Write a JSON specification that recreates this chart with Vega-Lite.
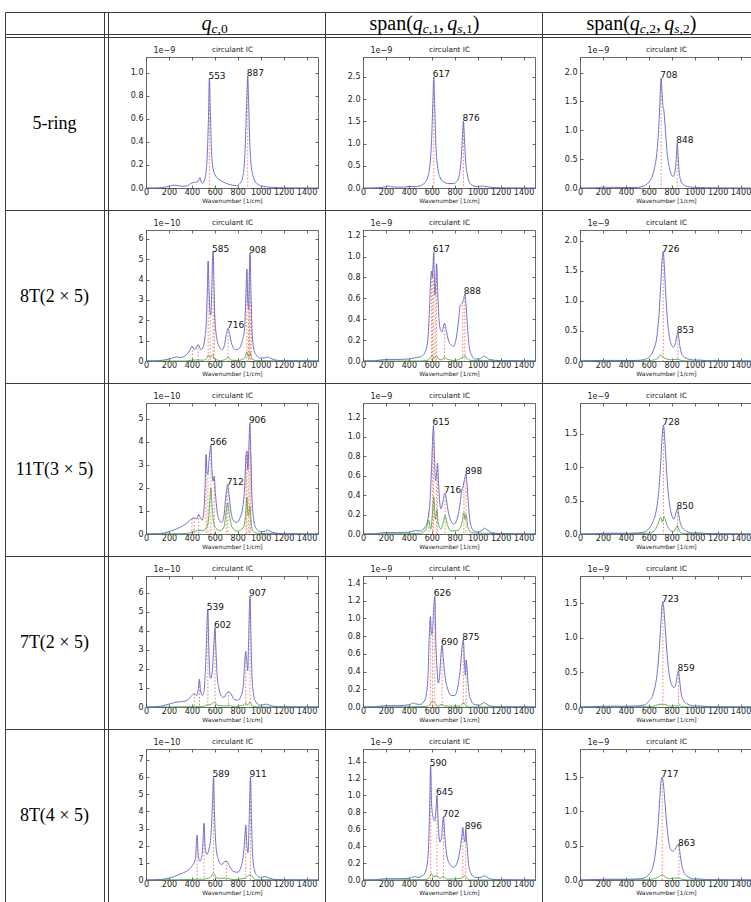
{
  "$schema": "https://vega.github.io/schema/vega-lite/v6.json",
  "background": "white",
  "padding": {"left": 4, "top": 11, "right": 0, "bottom": 0},
  "config": {
    "view": {"stroke": "#3c3c3c", "strokeWidth": 1},
    "axis": {
      "grid": false,
      "labelFont": "DejaVu Sans",
      "labelFontSize": 8,
      "labelColor": "#1a1a1a",
      "labelPadding": 6,
      "labelFlush": false,
      "labelOverlap": false,
      "domainColor": "#444444",
      "domainWidth": 0.8,
      "tickColor": "#444444",
      "tickWidth": 0.8,
      "tickSize": -3,
      "titleFont": "DejaVu Sans",
      "titleFontWeight": "normal",
      "titleColor": "#1a1a1a"
    },
    "axisBottom": {"labelPadding": 3},
    "text": {"font": "DejaVu Sans"}
  },
  "datasets": {
    "curves": [
      {"p":"A","s":"b","x":0,"y":0},{"p":"A","s":"b","x":100,"y":0.002},{"p":"A","s":"b","x":150,"y":0.005},{"p":"A","s":"b","x":200,"y":0.015},{"p":"A","s":"b","x":240,"y":0.025},{"p":"A","s":"b","x":280,"y":0.02},{"p":"A","s":"b","x":320,"y":0.015},{"p":"A","s":"b","x":360,"y":0.02},{"p":"A","s":"b","x":400,"y":0.045},{"p":"A","s":"b","x":430,"y":0.05},{"p":"A","s":"b","x":455,"y":0.06},{"p":"A","s":"b","x":470,"y":0.09},{"p":"A","s":"b","x":480,"y":0.06},{"p":"A","s":"b","x":495,"y":0.04},{"p":"A","s":"b","x":510,"y":0.07},{"p":"A","s":"b","x":525,"y":0.15},{"p":"A","s":"b","x":535,"y":0.3},{"p":"A","s":"b","x":545,"y":0.62},{"p":"A","s":"b","x":553,"y":0.95},{"p":"A","s":"b","x":560,"y":0.7},{"p":"A","s":"b","x":570,"y":0.35},{"p":"A","s":"b","x":580,"y":0.2},{"p":"A","s":"b","x":600,"y":0.12},{"p":"A","s":"b","x":630,"y":0.08},{"p":"A","s":"b","x":660,"y":0.06},{"p":"A","s":"b","x":700,"y":0.04},{"p":"A","s":"b","x":750,"y":0.025},{"p":"A","s":"b","x":790,"y":0.02},{"p":"A","s":"b","x":820,"y":0.04},{"p":"A","s":"b","x":845,"y":0.1},{"p":"A","s":"b","x":860,"y":0.25},{"p":"A","s":"b","x":872,"y":0.55},{"p":"A","s":"b","x":880,"y":0.8},{"p":"A","s":"b","x":887,"y":0.97},{"p":"A","s":"b","x":895,"y":0.75},{"p":"A","s":"b","x":905,"y":0.4},{"p":"A","s":"b","x":915,"y":0.22},{"p":"A","s":"b","x":930,"y":0.12},{"p":"A","s":"b","x":950,"y":0.06},{"p":"A","s":"b","x":980,"y":0.03},{"p":"A","s":"b","x":1020,"y":0.015},{"p":"A","s":"b","x":1100,"y":0.006},{"p":"A","s":"b","x":1200,"y":0.002},{"p":"A","s":"b","x":1300,"y":0.001},{"p":"A","s":"b","x":1500,"y":0},

      {"p":"B","s":"b","x":0,"y":0},{"p":"B","s":"b","x":150,"y":0.01},{"p":"B","s":"b","x":200,"y":0.03},{"p":"B","s":"b","x":225,"y":0.045},{"p":"B","s":"b","x":250,"y":0.03},{"p":"B","s":"b","x":300,"y":0.02},{"p":"B","s":"b","x":350,"y":0.02},{"p":"B","s":"b","x":400,"y":0.035},{"p":"B","s":"b","x":450,"y":0.03},{"p":"B","s":"b","x":500,"y":0.05},{"p":"B","s":"b","x":540,"y":0.12},{"p":"B","s":"b","x":570,"y":0.3},{"p":"B","s":"b","x":590,"y":0.7},{"p":"B","s":"b","x":600,"y":1.2},{"p":"B","s":"b","x":610,"y":2.0},{"p":"B","s":"b","x":617,"y":2.5},{"p":"B","s":"b","x":625,"y":1.9},{"p":"B","s":"b","x":635,"y":1.0},{"p":"B","s":"b","x":650,"y":0.5},{"p":"B","s":"b","x":670,"y":0.25},{"p":"B","s":"b","x":700,"y":0.14},{"p":"B","s":"b","x":750,"y":0.1},{"p":"B","s":"b","x":790,"y":0.1},{"p":"B","s":"b","x":820,"y":0.15},{"p":"B","s":"b","x":840,"y":0.3},{"p":"B","s":"b","x":855,"y":0.6},{"p":"B","s":"b","x":866,"y":1.1},{"p":"B","s":"b","x":876,"y":1.5},{"p":"B","s":"b","x":885,"y":1.1},{"p":"B","s":"b","x":895,"y":0.6},{"p":"B","s":"b","x":910,"y":0.3},{"p":"B","s":"b","x":930,"y":0.12},{"p":"B","s":"b","x":960,"y":0.05},{"p":"B","s":"b","x":1000,"y":0.03},{"p":"B","s":"b","x":1040,"y":0.045},{"p":"B","s":"b","x":1060,"y":0.04},{"p":"B","s":"b","x":1100,"y":0.02},{"p":"B","s":"b","x":1200,"y":0.005},{"p":"B","s":"b","x":1500,"y":0},

      {"p":"C","s":"b","x":0,"y":0},{"p":"C","s":"b","x":150,"y":0.005},{"p":"C","s":"b","x":200,"y":0.015},{"p":"C","s":"b","x":250,"y":0.01},{"p":"C","s":"b","x":300,"y":0.01},{"p":"C","s":"b","x":400,"y":0.008},{"p":"C","s":"b","x":500,"y":0.01},{"p":"C","s":"b","x":550,"y":0.03},{"p":"C","s":"b","x":600,"y":0.1},{"p":"C","s":"b","x":630,"y":0.2},{"p":"C","s":"b","x":650,"y":0.35},{"p":"C","s":"b","x":670,"y":0.6},{"p":"C","s":"b","x":685,"y":1.0},{"p":"C","s":"b","x":695,"y":1.4},{"p":"C","s":"b","x":702,"y":1.75},{"p":"C","s":"b","x":708,"y":1.9},{"p":"C","s":"b","x":714,"y":1.7},{"p":"C","s":"b","x":722,"y":1.45},{"p":"C","s":"b","x":732,"y":1.33},{"p":"C","s":"b","x":745,"y":1.0},{"p":"C","s":"b","x":760,"y":0.6},{"p":"C","s":"b","x":780,"y":0.35},{"p":"C","s":"b","x":800,"y":0.22},{"p":"C","s":"b","x":812,"y":0.2},{"p":"C","s":"b","x":825,"y":0.25},{"p":"C","s":"b","x":835,"y":0.4},{"p":"C","s":"b","x":842,"y":0.6},{"p":"C","s":"b","x":848,"y":0.78},{"p":"C","s":"b","x":853,"y":0.65},{"p":"C","s":"b","x":862,"y":0.35},{"p":"C","s":"b","x":875,"y":0.15},{"p":"C","s":"b","x":900,"y":0.06},{"p":"C","s":"b","x":950,"y":0.02},{"p":"C","s":"b","x":1000,"y":0.01},{"p":"C","s":"b","x":1050,"y":0.01},{"p":"C","s":"b","x":1100,"y":0.005},{"p":"C","s":"b","x":1200,"y":0.002},{"p":"C","s":"b","x":1500,"y":0},

      {"p":"D","s":"b","x":0,"y":0},{"p":"D","s":"b","x":100,"y":0.01},{"p":"D","s":"b","x":200,"y":0.1},{"p":"D","s":"b","x":270,"y":0.2},{"p":"D","s":"b","x":300,"y":0.17},{"p":"D","s":"b","x":350,"y":0.3},{"p":"D","s":"b","x":380,"y":0.5},{"p":"D","s":"b","x":400,"y":0.72},{"p":"D","s":"b","x":425,"y":0.55},{"p":"D","s":"b","x":455,"y":0.8},{"p":"D","s":"b","x":480,"y":0.55},{"p":"D","s":"b","x":500,"y":0.7},{"p":"D","s":"b","x":515,"y":1.2},{"p":"D","s":"b","x":525,"y":1.8},{"p":"D","s":"b","x":535,"y":3.5},{"p":"D","s":"b","x":542,"y":4.9},{"p":"D","s":"b","x":550,"y":3.5},{"p":"D","s":"b","x":558,"y":2.4},{"p":"D","s":"b","x":565,"y":2.25},{"p":"D","s":"b","x":572,"y":3.2},{"p":"D","s":"b","x":578,"y":4.5},{"p":"D","s":"b","x":585,"y":5.35},{"p":"D","s":"b","x":592,"y":4.0},{"p":"D","s":"b","x":600,"y":2.2},{"p":"D","s":"b","x":615,"y":1.2},{"p":"D","s":"b","x":640,"y":0.7},{"p":"D","s":"b","x":665,"y":0.55},{"p":"D","s":"b","x":685,"y":0.8},{"p":"D","s":"b","x":700,"y":1.3},{"p":"D","s":"b","x":716,"y":1.6},{"p":"D","s":"b","x":730,"y":1.3},{"p":"D","s":"b","x":750,"y":0.8},{"p":"D","s":"b","x":780,"y":0.55},{"p":"D","s":"b","x":810,"y":0.6},{"p":"D","s":"b","x":840,"y":1.0},{"p":"D","s":"b","x":860,"y":1.6},{"p":"D","s":"b","x":870,"y":3.0},{"p":"D","s":"b","x":880,"y":4.5},{"p":"D","s":"b","x":887,"y":3.0},{"p":"D","s":"b","x":894,"y":2.55},{"p":"D","s":"b","x":902,"y":4.5},{"p":"D","s":"b","x":908,"y":5.3},{"p":"D","s":"b","x":915,"y":3.5},{"p":"D","s":"b","x":925,"y":1.5},{"p":"D","s":"b","x":940,"y":0.6},{"p":"D","s":"b","x":960,"y":0.3},{"p":"D","s":"b","x":1000,"y":0.15},{"p":"D","s":"b","x":1040,"y":0.15},{"p":"D","s":"b","x":1065,"y":0.2},{"p":"D","s":"b","x":1090,"y":0.12},{"p":"D","s":"b","x":1150,"y":0.03},{"p":"D","s":"b","x":1200,"y":0.01},{"p":"D","s":"b","x":1500,"y":0},
      {"p":"D","s":"g","x":0,"y":0},{"p":"D","s":"g","x":350,"y":0},{"p":"D","s":"g","x":400,"y":0.04},{"p":"D","s":"g","x":450,"y":0.05},{"p":"D","s":"g","x":500,"y":0.04},{"p":"D","s":"g","x":530,"y":0.15},{"p":"D","s":"g","x":545,"y":0.3},{"p":"D","s":"g","x":560,"y":0.15},{"p":"D","s":"g","x":580,"y":0.3},{"p":"D","s":"g","x":600,"y":0.1},{"p":"D","s":"g","x":650,"y":0.02},{"p":"D","s":"g","x":700,"y":0.1},{"p":"D","s":"g","x":716,"y":0.2},{"p":"D","s":"g","x":735,"y":0.05},{"p":"D","s":"g","x":800,"y":0.02},{"p":"D","s":"g","x":860,"y":0.15},{"p":"D","s":"g","x":880,"y":0.45},{"p":"D","s":"g","x":893,"y":0.2},{"p":"D","s":"g","x":908,"y":0.42},{"p":"D","s":"g","x":925,"y":0.1},{"p":"D","s":"g","x":960,"y":0.02},{"p":"D","s":"g","x":1500,"y":0},

      {"p":"E","s":"b","x":0,"y":0},{"p":"E","s":"b","x":100,"y":0.002},{"p":"E","s":"b","x":200,"y":0.015},{"p":"E","s":"b","x":300,"y":0.015},{"p":"E","s":"b","x":400,"y":0.02},{"p":"E","s":"b","x":450,"y":0.03},{"p":"E","s":"b","x":500,"y":0.04},{"p":"E","s":"b","x":540,"y":0.08},{"p":"E","s":"b","x":565,"y":0.2},{"p":"E","s":"b","x":580,"y":0.5},{"p":"E","s":"b","x":590,"y":0.78},{"p":"E","s":"b","x":598,"y":0.86},{"p":"E","s":"b","x":604,"y":0.8},{"p":"E","s":"b","x":610,"y":0.9},{"p":"E","s":"b","x":617,"y":1.04},{"p":"E","s":"b","x":622,"y":0.8},{"p":"E","s":"b","x":628,"y":0.63},{"p":"E","s":"b","x":635,"y":0.75},{"p":"E","s":"b","x":642,"y":0.93},{"p":"E","s":"b","x":650,"y":0.7},{"p":"E","s":"b","x":660,"y":0.45},{"p":"E","s":"b","x":675,"y":0.3},{"p":"E","s":"b","x":690,"y":0.28},{"p":"E","s":"b","x":705,"y":0.35},{"p":"E","s":"b","x":712,"y":0.36},{"p":"E","s":"b","x":725,"y":0.3},{"p":"E","s":"b","x":745,"y":0.2},{"p":"E","s":"b","x":770,"y":0.15},{"p":"E","s":"b","x":790,"y":0.14},{"p":"E","s":"b","x":810,"y":0.2},{"p":"E","s":"b","x":830,"y":0.35},{"p":"E","s":"b","x":848,"y":0.53},{"p":"E","s":"b","x":862,"y":0.55},{"p":"E","s":"b","x":875,"y":0.58},{"p":"E","s":"b","x":888,"y":0.64},{"p":"E","s":"b","x":898,"y":0.55},{"p":"E","s":"b","x":910,"y":0.35},{"p":"E","s":"b","x":925,"y":0.15},{"p":"E","s":"b","x":945,"y":0.06},{"p":"E","s":"b","x":980,"y":0.02},{"p":"E","s":"b","x":1020,"y":0.02},{"p":"E","s":"b","x":1050,"y":0.045},{"p":"E","s":"b","x":1070,"y":0.04},{"p":"E","s":"b","x":1100,"y":0.015},{"p":"E","s":"b","x":1200,"y":0.003},{"p":"E","s":"b","x":1500,"y":0},
      {"p":"E","s":"g","x":0,"y":0},{"p":"E","s":"g","x":500,"y":0},{"p":"E","s":"g","x":570,"y":0.01},{"p":"E","s":"g","x":600,"y":0.05},{"p":"E","s":"g","x":620,"y":0.03},{"p":"E","s":"g","x":640,"y":0.05},{"p":"E","s":"g","x":660,"y":0.02},{"p":"E","s":"g","x":690,"y":0.01},{"p":"E","s":"g","x":710,"y":0.04},{"p":"E","s":"g","x":730,"y":0.02},{"p":"E","s":"g","x":800,"y":0.005},{"p":"E","s":"g","x":860,"y":0.03},{"p":"E","s":"g","x":875,"y":0.04},{"p":"E","s":"g","x":890,"y":0.05},{"p":"E","s":"g","x":910,"y":0.02},{"p":"E","s":"g","x":950,"y":0.005},{"p":"E","s":"g","x":1500,"y":0},

      {"p":"F","s":"b","x":0,"y":0},{"p":"F","s":"b","x":200,"y":0.01},{"p":"F","s":"b","x":300,"y":0.01},{"p":"F","s":"b","x":400,"y":0.008},{"p":"F","s":"b","x":500,"y":0.01},{"p":"F","s":"b","x":550,"y":0.02},{"p":"F","s":"b","x":600,"y":0.06},{"p":"F","s":"b","x":640,"y":0.18},{"p":"F","s":"b","x":670,"y":0.4},{"p":"F","s":"b","x":690,"y":0.8},{"p":"F","s":"b","x":705,"y":1.3},{"p":"F","s":"b","x":715,"y":1.65},{"p":"F","s":"b","x":726,"y":1.82},{"p":"F","s":"b","x":735,"y":1.6},{"p":"F","s":"b","x":745,"y":1.2},{"p":"F","s":"b","x":760,"y":0.75},{"p":"F","s":"b","x":780,"y":0.4},{"p":"F","s":"b","x":800,"y":0.26},{"p":"F","s":"b","x":815,"y":0.23},{"p":"F","s":"b","x":830,"y":0.28},{"p":"F","s":"b","x":842,"y":0.4},{"p":"F","s":"b","x":853,"y":0.47},{"p":"F","s":"b","x":862,"y":0.38},{"p":"F","s":"b","x":875,"y":0.2},{"p":"F","s":"b","x":900,"y":0.08},{"p":"F","s":"b","x":950,"y":0.03},{"p":"F","s":"b","x":1000,"y":0.015},{"p":"F","s":"b","x":1050,"y":0.015},{"p":"F","s":"b","x":1100,"y":0.005},{"p":"F","s":"b","x":1500,"y":0},
      {"p":"F","s":"g","x":0,"y":0},{"p":"F","s":"g","x":600,"y":0.005},{"p":"F","s":"g","x":650,"y":0.02},{"p":"F","s":"g","x":680,"y":0.05},{"p":"F","s":"g","x":700,"y":0.1},{"p":"F","s":"g","x":715,"y":0.08},{"p":"F","s":"g","x":730,"y":0.06},{"p":"F","s":"g","x":760,"y":0.03},{"p":"F","s":"g","x":800,"y":0.02},{"p":"F","s":"g","x":850,"y":0.03},{"p":"F","s":"g","x":880,"y":0.01},{"p":"F","s":"g","x":950,"y":0},{"p":"F","s":"g","x":1500,"y":0},

      {"p":"G","s":"b","x":0,"y":0},{"p":"G","s":"b","x":100,"y":0.01},{"p":"G","s":"b","x":200,"y":0.1},{"p":"G","s":"b","x":300,"y":0.3},{"p":"G","s":"b","x":350,"y":0.45},{"p":"G","s":"b","x":400,"y":0.66},{"p":"G","s":"b","x":420,"y":0.7},{"p":"G","s":"b","x":440,"y":0.65},{"p":"G","s":"b","x":460,"y":0.85},{"p":"G","s":"b","x":475,"y":0.7},{"p":"G","s":"b","x":490,"y":0.6},{"p":"G","s":"b","x":505,"y":1.0},{"p":"G","s":"b","x":515,"y":2.0},{"p":"G","s":"b","x":524,"y":3.45},{"p":"G","s":"b","x":532,"y":2.7},{"p":"G","s":"b","x":540,"y":2.6},{"p":"G","s":"b","x":550,"y":3.2},{"p":"G","s":"b","x":566,"y":3.85},{"p":"G","s":"b","x":575,"y":2.8},{"p":"G","s":"b","x":585,"y":2.3},{"p":"G","s":"b","x":595,"y":2.5},{"p":"G","s":"b","x":605,"y":1.8},{"p":"G","s":"b","x":620,"y":1.0},{"p":"G","s":"b","x":640,"y":0.6},{"p":"G","s":"b","x":660,"y":0.5},{"p":"G","s":"b","x":680,"y":0.8},{"p":"G","s":"b","x":695,"y":1.6},{"p":"G","s":"b","x":700,"y":1.8},{"p":"G","s":"b","x":712,"y":2.15},{"p":"G","s":"b","x":722,"y":1.8},{"p":"G","s":"b","x":740,"y":1.0},{"p":"G","s":"b","x":760,"y":0.6},{"p":"G","s":"b","x":790,"y":0.5},{"p":"G","s":"b","x":820,"y":0.7},{"p":"G","s":"b","x":845,"y":1.2},{"p":"G","s":"b","x":860,"y":2.0},{"p":"G","s":"b","x":872,"y":3.4},{"p":"G","s":"b","x":880,"y":3.6},{"p":"G","s":"b","x":888,"y":2.8},{"p":"G","s":"b","x":895,"y":3.5},{"p":"G","s":"b","x":906,"y":4.8},{"p":"G","s":"b","x":914,"y":3.5},{"p":"G","s":"b","x":925,"y":1.5},{"p":"G","s":"b","x":940,"y":0.6},{"p":"G","s":"b","x":960,"y":0.25},{"p":"G","s":"b","x":1000,"y":0.1},{"p":"G","s":"b","x":1040,"y":0.12},{"p":"G","s":"b","x":1060,"y":0.18},{"p":"G","s":"b","x":1080,"y":0.12},{"p":"G","s":"b","x":1120,"y":0.05},{"p":"G","s":"b","x":1200,"y":0.01},{"p":"G","s":"b","x":1500,"y":0},
      {"p":"G","s":"g","x":0,"y":0},{"p":"G","s":"g","x":350,"y":0.02},{"p":"G","s":"g","x":420,"y":0.12},{"p":"G","s":"g","x":460,"y":0.15},{"p":"G","s":"g","x":500,"y":0.15},{"p":"G","s":"g","x":530,"y":0.3},{"p":"G","s":"g","x":545,"y":0.6},{"p":"G","s":"g","x":560,"y":1.7},{"p":"G","s":"g","x":566,"y":2.0},{"p":"G","s":"g","x":575,"y":1.3},{"p":"G","s":"g","x":590,"y":0.5},{"p":"G","s":"g","x":610,"y":0.25},{"p":"G","s":"g","x":650,"y":0.15},{"p":"G","s":"g","x":680,"y":0.3},{"p":"G","s":"g","x":700,"y":1.0},{"p":"G","s":"g","x":712,"y":1.35},{"p":"G","s":"g","x":725,"y":0.9},{"p":"G","s":"g","x":750,"y":0.3},{"p":"G","s":"g","x":800,"y":0.12},{"p":"G","s":"g","x":850,"y":0.3},{"p":"G","s":"g","x":870,"y":0.9},{"p":"G","s":"g","x":880,"y":1.6},{"p":"G","s":"g","x":890,"y":0.8},{"p":"G","s":"g","x":898,"y":0.9},{"p":"G","s":"g","x":906,"y":1.2},{"p":"G","s":"g","x":915,"y":0.6},{"p":"G","s":"g","x":930,"y":0.15},{"p":"G","s":"g","x":970,"y":0.03},{"p":"G","s":"g","x":1500,"y":0},

      {"p":"H","s":"b","x":0,"y":0},{"p":"H","s":"b","x":100,"y":0.003},{"p":"H","s":"b","x":200,"y":0.015},{"p":"H","s":"b","x":300,"y":0.015},{"p":"H","s":"b","x":400,"y":0.02},{"p":"H","s":"b","x":460,"y":0.035},{"p":"H","s":"b","x":500,"y":0.03},{"p":"H","s":"b","x":540,"y":0.07},{"p":"H","s":"b","x":565,"y":0.15},{"p":"H","s":"b","x":585,"y":0.35},{"p":"H","s":"b","x":600,"y":0.75},{"p":"H","s":"b","x":610,"y":1.05},{"p":"H","s":"b","x":615,"y":1.12},{"p":"H","s":"b","x":622,"y":0.85},{"p":"H","s":"b","x":632,"y":0.55},{"p":"H","s":"b","x":642,"y":0.62},{"p":"H","s":"b","x":650,"y":0.73},{"p":"H","s":"b","x":658,"y":0.55},{"p":"H","s":"b","x":670,"y":0.32},{"p":"H","s":"b","x":680,"y":0.26},{"p":"H","s":"b","x":695,"y":0.32},{"p":"H","s":"b","x":708,"y":0.4},{"p":"H","s":"b","x":716,"y":0.42},{"p":"H","s":"b","x":728,"y":0.35},{"p":"H","s":"b","x":745,"y":0.22},{"p":"H","s":"b","x":770,"y":0.13},{"p":"H","s":"b","x":790,"y":0.1},{"p":"H","s":"b","x":820,"y":0.15},{"p":"H","s":"b","x":845,"y":0.3},{"p":"H","s":"b","x":862,"y":0.45},{"p":"H","s":"b","x":875,"y":0.5},{"p":"H","s":"b","x":888,"y":0.58},{"p":"H","s":"b","x":898,"y":0.62},{"p":"H","s":"b","x":908,"y":0.5},{"p":"H","s":"b","x":920,"y":0.3},{"p":"H","s":"b","x":935,"y":0.12},{"p":"H","s":"b","x":960,"y":0.04},{"p":"H","s":"b","x":1000,"y":0.02},{"p":"H","s":"b","x":1040,"y":0.04},{"p":"H","s":"b","x":1060,"y":0.06},{"p":"H","s":"b","x":1080,"y":0.045},{"p":"H","s":"b","x":1120,"y":0.015},{"p":"H","s":"b","x":1200,"y":0.003},{"p":"H","s":"b","x":1500,"y":0},
      {"p":"H","s":"g","x":0,"y":0},{"p":"H","s":"g","x":500,"y":0.005},{"p":"H","s":"g","x":550,"y":0.05},{"p":"H","s":"g","x":575,"y":0.14},{"p":"H","s":"g","x":590,"y":0.05},{"p":"H","s":"g","x":605,"y":0.2},{"p":"H","s":"g","x":618,"y":0.38},{"p":"H","s":"g","x":630,"y":0.15},{"p":"H","s":"g","x":645,"y":0.25},{"p":"H","s":"g","x":655,"y":0.12},{"p":"H","s":"g","x":680,"y":0.05},{"p":"H","s":"g","x":700,"y":0.12},{"p":"H","s":"g","x":716,"y":0.19},{"p":"H","s":"g","x":735,"y":0.1},{"p":"H","s":"g","x":770,"y":0.03},{"p":"H","s":"g","x":830,"y":0.04},{"p":"H","s":"g","x":860,"y":0.1},{"p":"H","s":"g","x":880,"y":0.22},{"p":"H","s":"g","x":890,"y":0.15},{"p":"H","s":"g","x":900,"y":0.2},{"p":"H","s":"g","x":915,"y":0.07},{"p":"H","s":"g","x":950,"y":0.01},{"p":"H","s":"g","x":1500,"y":0},

      {"p":"I","s":"b","x":0,"y":0},{"p":"I","s":"b","x":150,"y":0.005},{"p":"I","s":"b","x":200,"y":0.01},{"p":"I","s":"b","x":300,"y":0.012},{"p":"I","s":"b","x":400,"y":0.01},{"p":"I","s":"b","x":500,"y":0.015},{"p":"I","s":"b","x":560,"y":0.03},{"p":"I","s":"b","x":600,"y":0.08},{"p":"I","s":"b","x":640,"y":0.2},{"p":"I","s":"b","x":670,"y":0.4},{"p":"I","s":"b","x":690,"y":0.7},{"p":"I","s":"b","x":705,"y":1.1},{"p":"I","s":"b","x":718,"y":1.5},{"p":"I","s":"b","x":728,"y":1.63},{"p":"I","s":"b","x":738,"y":1.45},{"p":"I","s":"b","x":750,"y":1.1},{"p":"I","s":"b","x":765,"y":0.7},{"p":"I","s":"b","x":785,"y":0.4},{"p":"I","s":"b","x":805,"y":0.26},{"p":"I","s":"b","x":818,"y":0.22},{"p":"I","s":"b","x":832,"y":0.28},{"p":"I","s":"b","x":842,"y":0.35},{"p":"I","s":"b","x":850,"y":0.38},{"p":"I","s":"b","x":858,"y":0.33},{"p":"I","s":"b","x":870,"y":0.2},{"p":"I","s":"b","x":890,"y":0.1},{"p":"I","s":"b","x":930,"y":0.04},{"p":"I","s":"b","x":980,"y":0.015},{"p":"I","s":"b","x":1050,"y":0.015},{"p":"I","s":"b","x":1100,"y":0.005},{"p":"I","s":"b","x":1500,"y":0},
      {"p":"I","s":"g","x":0,"y":0},{"p":"I","s":"g","x":600,"y":0.01},{"p":"I","s":"g","x":650,"y":0.05},{"p":"I","s":"g","x":680,"y":0.15},{"p":"I","s":"g","x":705,"y":0.25},{"p":"I","s":"g","x":718,"y":0.18},{"p":"I","s":"g","x":735,"y":0.26},{"p":"I","s":"g","x":755,"y":0.15},{"p":"I","s":"g","x":790,"y":0.05},{"p":"I","s":"g","x":820,"y":0.04},{"p":"I","s":"g","x":840,"y":0.1},{"p":"I","s":"g","x":850,"y":0.13},{"p":"I","s":"g","x":862,"y":0.06},{"p":"I","s":"g","x":890,"y":0.01},{"p":"I","s":"g","x":1500,"y":0},

      {"p":"J","s":"b","x":0,"y":0},{"p":"J","s":"b","x":100,"y":0.02},{"p":"J","s":"b","x":200,"y":0.15},{"p":"J","s":"b","x":260,"y":0.25},{"p":"J","s":"b","x":300,"y":0.28},{"p":"J","s":"b","x":330,"y":0.3},{"p":"J","s":"b","x":360,"y":0.35},{"p":"J","s":"b","x":400,"y":0.6},{"p":"J","s":"b","x":420,"y":0.7},{"p":"J","s":"b","x":440,"y":0.6},{"p":"J","s":"b","x":455,"y":0.9},{"p":"J","s":"b","x":466,"y":1.45},{"p":"J","s":"b","x":475,"y":0.9},{"p":"J","s":"b","x":490,"y":0.6},{"p":"J","s":"b","x":505,"y":0.8},{"p":"J","s":"b","x":515,"y":1.6},{"p":"J","s":"b","x":525,"y":3.0},{"p":"J","s":"b","x":533,"y":4.6},{"p":"J","s":"b","x":539,"y":5.1},{"p":"J","s":"b","x":548,"y":3.0},{"p":"J","s":"b","x":558,"y":1.6},{"p":"J","s":"b","x":565,"y":1.5},{"p":"J","s":"b","x":580,"y":2.0},{"p":"J","s":"b","x":592,"y":3.3},{"p":"J","s":"b","x":602,"y":4.15},{"p":"J","s":"b","x":610,"y":3.0},{"p":"J","s":"b","x":620,"y":1.7},{"p":"J","s":"b","x":635,"y":1.0},{"p":"J","s":"b","x":655,"y":0.6},{"p":"J","s":"b","x":680,"y":0.5},{"p":"J","s":"b","x":700,"y":0.7},{"p":"J","s":"b","x":720,"y":0.8},{"p":"J","s":"b","x":740,"y":0.7},{"p":"J","s":"b","x":770,"y":0.4},{"p":"J","s":"b","x":800,"y":0.35},{"p":"J","s":"b","x":830,"y":0.6},{"p":"J","s":"b","x":850,"y":1.2},{"p":"J","s":"b","x":860,"y":2.3},{"p":"J","s":"b","x":870,"y":2.9},{"p":"J","s":"b","x":878,"y":2.5},{"p":"J","s":"b","x":887,"y":1.9},{"p":"J","s":"b","x":895,"y":3.5},{"p":"J","s":"b","x":902,"y":5.2},{"p":"J","s":"b","x":907,"y":5.8},{"p":"J","s":"b","x":914,"y":4.0},{"p":"J","s":"b","x":922,"y":2.0},{"p":"J","s":"b","x":935,"y":0.8},{"p":"J","s":"b","x":955,"y":0.3},{"p":"J","s":"b","x":990,"y":0.1},{"p":"J","s":"b","x":1030,"y":0.12},{"p":"J","s":"b","x":1050,"y":0.15},{"p":"J","s":"b","x":1075,"y":0.1},{"p":"J","s":"b","x":1120,"y":0.03},{"p":"J","s":"b","x":1200,"y":0.01},{"p":"J","s":"b","x":1500,"y":0},
      {"p":"J","s":"g","x":0,"y":0},{"p":"J","s":"g","x":500,"y":0.02},{"p":"J","s":"g","x":530,"y":0.1},{"p":"J","s":"g","x":560,"y":0.12},{"p":"J","s":"g","x":600,"y":0.25},{"p":"J","s":"g","x":620,"y":0.1},{"p":"J","s":"g","x":700,"y":0.05},{"p":"J","s":"g","x":720,"y":0.1},{"p":"J","s":"g","x":760,"y":0.02},{"p":"J","s":"g","x":850,"y":0.1},{"p":"J","s":"g","x":870,"y":0.2},{"p":"J","s":"g","x":885,"y":0.1},{"p":"J","s":"g","x":907,"y":0.25},{"p":"J","s":"g","x":930,"y":0.05},{"p":"J","s":"g","x":1000,"y":0},{"p":"J","s":"g","x":1500,"y":0},

      {"p":"K","s":"b","x":0,"y":0},{"p":"K","s":"b","x":100,"y":0.003},{"p":"K","s":"b","x":200,"y":0.015},{"p":"K","s":"b","x":300,"y":0.015},{"p":"K","s":"b","x":400,"y":0.025},{"p":"K","s":"b","x":440,"y":0.045},{"p":"K","s":"b","x":460,"y":0.035},{"p":"K","s":"b","x":500,"y":0.03},{"p":"K","s":"b","x":540,"y":0.08},{"p":"K","s":"b","x":565,"y":0.3},{"p":"K","s":"b","x":578,"y":0.8},{"p":"K","s":"b","x":588,"y":1.02},{"p":"K","s":"b","x":598,"y":0.82},{"p":"K","s":"b","x":606,"y":0.85},{"p":"K","s":"b","x":616,"y":1.1},{"p":"K","s":"b","x":626,"y":1.25},{"p":"K","s":"b","x":634,"y":0.8},{"p":"K","s":"b","x":645,"y":0.45},{"p":"K","s":"b","x":657,"y":0.27},{"p":"K","s":"b","x":668,"y":0.35},{"p":"K","s":"b","x":680,"y":0.6},{"p":"K","s":"b","x":690,"y":0.7},{"p":"K","s":"b","x":700,"y":0.55},{"p":"K","s":"b","x":715,"y":0.35},{"p":"K","s":"b","x":740,"y":0.2},{"p":"K","s":"b","x":770,"y":0.13},{"p":"K","s":"b","x":800,"y":0.13},{"p":"K","s":"b","x":830,"y":0.25},{"p":"K","s":"b","x":850,"y":0.45},{"p":"K","s":"b","x":862,"y":0.65},{"p":"K","s":"b","x":875,"y":0.76},{"p":"K","s":"b","x":885,"y":0.5},{"p":"K","s":"b","x":893,"y":0.36},{"p":"K","s":"b","x":900,"y":0.53},{"p":"K","s":"b","x":907,"y":0.45},{"p":"K","s":"b","x":920,"y":0.2},{"p":"K","s":"b","x":940,"y":0.08},{"p":"K","s":"b","x":970,"y":0.03},{"p":"K","s":"b","x":1020,"y":0.02},{"p":"K","s":"b","x":1050,"y":0.05},{"p":"K","s":"b","x":1070,"y":0.04},{"p":"K","s":"b","x":1110,"y":0.01},{"p":"K","s":"b","x":1200,"y":0.003},{"p":"K","s":"b","x":1500,"y":0},
      {"p":"K","s":"g","x":0,"y":0},{"p":"K","s":"g","x":550,"y":0.005},{"p":"K","s":"g","x":590,"y":0.04},{"p":"K","s":"g","x":610,"y":0.07},{"p":"K","s":"g","x":625,"y":0.05},{"p":"K","s":"g","x":650,"y":0.01},{"p":"K","s":"g","x":690,"y":0.03},{"p":"K","s":"g","x":710,"y":0.01},{"p":"K","s":"g","x":850,"y":0.01},{"p":"K","s":"g","x":875,"y":0.05},{"p":"K","s":"g","x":895,"y":0.02},{"p":"K","s":"g","x":930,"y":0},{"p":"K","s":"g","x":1500,"y":0},

      {"p":"L","s":"b","x":0,"y":0},{"p":"L","s":"b","x":200,"y":0.01},{"p":"L","s":"b","x":300,"y":0.012},{"p":"L","s":"b","x":400,"y":0.01},{"p":"L","s":"b","x":500,"y":0.015},{"p":"L","s":"b","x":560,"y":0.03},{"p":"L","s":"b","x":600,"y":0.08},{"p":"L","s":"b","x":640,"y":0.2},{"p":"L","s":"b","x":670,"y":0.45},{"p":"L","s":"b","x":690,"y":0.8},{"p":"L","s":"b","x":705,"y":1.2},{"p":"L","s":"b","x":715,"y":1.45},{"p":"L","s":"b","x":723,"y":1.52},{"p":"L","s":"b","x":732,"y":1.4},{"p":"L","s":"b","x":745,"y":1.1},{"p":"L","s":"b","x":760,"y":0.75},{"p":"L","s":"b","x":780,"y":0.45},{"p":"L","s":"b","x":800,"y":0.32},{"p":"L","s":"b","x":820,"y":0.28},{"p":"L","s":"b","x":838,"y":0.35},{"p":"L","s":"b","x":850,"y":0.48},{"p":"L","s":"b","x":859,"y":0.52},{"p":"L","s":"b","x":868,"y":0.4},{"p":"L","s":"b","x":880,"y":0.22},{"p":"L","s":"b","x":900,"y":0.1},{"p":"L","s":"b","x":940,"y":0.04},{"p":"L","s":"b","x":1000,"y":0.015},{"p":"L","s":"b","x":1050,"y":0.015},{"p":"L","s":"b","x":1100,"y":0.005},{"p":"L","s":"b","x":1500,"y":0},
      {"p":"L","s":"g","x":0,"y":0},{"p":"L","s":"g","x":600,"y":0.005},{"p":"L","s":"g","x":660,"y":0.02},{"p":"L","s":"g","x":700,"y":0.04},{"p":"L","s":"g","x":720,"y":0.03},{"p":"L","s":"g","x":740,"y":0.04},{"p":"L","s":"g","x":780,"y":0.01},{"p":"L","s":"g","x":850,"y":0.02},{"p":"L","s":"g","x":865,"y":0.03},{"p":"L","s":"g","x":890,"y":0.005},{"p":"L","s":"g","x":950,"y":0},{"p":"L","s":"g","x":1500,"y":0},

      {"p":"M","s":"b","x":0,"y":0},{"p":"M","s":"b","x":100,"y":0.02},{"p":"M","s":"b","x":200,"y":0.1},{"p":"M","s":"b","x":300,"y":0.35},{"p":"M","s":"b","x":350,"y":0.5},{"p":"M","s":"b","x":400,"y":0.8},{"p":"M","s":"b","x":430,"y":1.2},{"p":"M","s":"b","x":446,"y":2.6},{"p":"M","s":"b","x":455,"y":1.5},{"p":"M","s":"b","x":470,"y":1.1},{"p":"M","s":"b","x":490,"y":1.5},{"p":"M","s":"b","x":507,"y":3.3},{"p":"M","s":"b","x":515,"y":2.0},{"p":"M","s":"b","x":530,"y":1.5},{"p":"M","s":"b","x":550,"y":1.8},{"p":"M","s":"b","x":570,"y":3.0},{"p":"M","s":"b","x":580,"y":4.5},{"p":"M","s":"b","x":589,"y":6.0},{"p":"M","s":"b","x":597,"y":4.0},{"p":"M","s":"b","x":610,"y":2.0},{"p":"M","s":"b","x":630,"y":1.2},{"p":"M","s":"b","x":660,"y":0.9},{"p":"M","s":"b","x":690,"y":1.1},{"p":"M","s":"b","x":710,"y":1.05},{"p":"M","s":"b","x":730,"y":0.8},{"p":"M","s":"b","x":760,"y":0.5},{"p":"M","s":"b","x":800,"y":0.45},{"p":"M","s":"b","x":830,"y":0.8},{"p":"M","s":"b","x":850,"y":1.5},{"p":"M","s":"b","x":862,"y":2.5},{"p":"M","s":"b","x":870,"y":3.2},{"p":"M","s":"b","x":880,"y":2.0},{"p":"M","s":"b","x":890,"y":1.6},{"p":"M","s":"b","x":900,"y":3.5},{"p":"M","s":"b","x":911,"y":6.0},{"p":"M","s":"b","x":920,"y":3.5},{"p":"M","s":"b","x":930,"y":1.5},{"p":"M","s":"b","x":945,"y":0.6},{"p":"M","s":"b","x":970,"y":0.25},{"p":"M","s":"b","x":1000,"y":0.15},{"p":"M","s":"b","x":1040,"y":0.2},{"p":"M","s":"b","x":1070,"y":0.12},{"p":"M","s":"b","x":1120,"y":0.03},{"p":"M","s":"b","x":1200,"y":0.01},{"p":"M","s":"b","x":1500,"y":0},
      {"p":"M","s":"g","x":0,"y":0},{"p":"M","s":"g","x":500,"y":0.05},{"p":"M","s":"g","x":560,"y":0.15},{"p":"M","s":"g","x":589,"y":0.4},{"p":"M","s":"g","x":620,"y":0.1},{"p":"M","s":"g","x":700,"y":0.1},{"p":"M","s":"g","x":760,"y":0.02},{"p":"M","s":"g","x":860,"y":0.1},{"p":"M","s":"g","x":880,"y":0.2},{"p":"M","s":"g","x":911,"y":0.3},{"p":"M","s":"g","x":950,"y":0.02},{"p":"M","s":"g","x":1500,"y":0},

      {"p":"N","s":"b","x":0,"y":0},{"p":"N","s":"b","x":100,"y":0.003},{"p":"N","s":"b","x":200,"y":0.015},{"p":"N","s":"b","x":300,"y":0.015},{"p":"N","s":"b","x":400,"y":0.02},{"p":"N","s":"b","x":450,"y":0.04},{"p":"N","s":"b","x":480,"y":0.03},{"p":"N","s":"b","x":520,"y":0.05},{"p":"N","s":"b","x":550,"y":0.12},{"p":"N","s":"b","x":570,"y":0.35},{"p":"N","s":"b","x":582,"y":0.9},{"p":"N","s":"b","x":590,"y":1.35},{"p":"N","s":"b","x":598,"y":0.9},{"p":"N","s":"b","x":610,"y":0.75},{"p":"N","s":"b","x":625,"y":0.7},{"p":"N","s":"b","x":637,"y":0.85},{"p":"N","s":"b","x":645,"y":1.0},{"p":"N","s":"b","x":655,"y":0.7},{"p":"N","s":"b","x":670,"y":0.45},{"p":"N","s":"b","x":685,"y":0.5},{"p":"N","s":"b","x":695,"y":0.7},{"p":"N","s":"b","x":702,"y":0.75},{"p":"N","s":"b","x":712,"y":0.55},{"p":"N","s":"b","x":730,"y":0.3},{"p":"N","s":"b","x":760,"y":0.18},{"p":"N","s":"b","x":790,"y":0.15},{"p":"N","s":"b","x":820,"y":0.2},{"p":"N","s":"b","x":845,"y":0.35},{"p":"N","s":"b","x":860,"y":0.5},{"p":"N","s":"b","x":870,"y":0.62},{"p":"N","s":"b","x":880,"y":0.5},{"p":"N","s":"b","x":888,"y":0.45},{"p":"N","s":"b","x":896,"y":0.6},{"p":"N","s":"b","x":905,"y":0.45},{"p":"N","s":"b","x":920,"y":0.2},{"p":"N","s":"b","x":940,"y":0.08},{"p":"N","s":"b","x":980,"y":0.03},{"p":"N","s":"b","x":1030,"y":0.03},{"p":"N","s":"b","x":1055,"y":0.05},{"p":"N","s":"b","x":1080,"y":0.035},{"p":"N","s":"b","x":1120,"y":0.01},{"p":"N","s":"b","x":1200,"y":0.003},{"p":"N","s":"b","x":1500,"y":0},
      {"p":"N","s":"g","x":0,"y":0},{"p":"N","s":"g","x":550,"y":0.005},{"p":"N","s":"g","x":580,"y":0.04},{"p":"N","s":"g","x":595,"y":0.08},{"p":"N","s":"g","x":610,"y":0.04},{"p":"N","s":"g","x":645,"y":0.05},{"p":"N","s":"g","x":670,"y":0.02},{"p":"N","s":"g","x":700,"y":0.04},{"p":"N","s":"g","x":730,"y":0.01},{"p":"N","s":"g","x":860,"y":0.02},{"p":"N","s":"g","x":880,"y":0.05},{"p":"N","s":"g","x":900,"y":0.03},{"p":"N","s":"g","x":930,"y":0},{"p":"N","s":"g","x":1500,"y":0},

      {"p":"O","s":"b","x":0,"y":0},{"p":"O","s":"b","x":200,"y":0.01},{"p":"O","s":"b","x":300,"y":0.012},{"p":"O","s":"b","x":400,"y":0.01},{"p":"O","s":"b","x":500,"y":0.015},{"p":"O","s":"b","x":560,"y":0.03},{"p":"O","s":"b","x":600,"y":0.08},{"p":"O","s":"b","x":640,"y":0.22},{"p":"O","s":"b","x":665,"y":0.5},{"p":"O","s":"b","x":685,"y":0.9},{"p":"O","s":"b","x":700,"y":1.3},{"p":"O","s":"b","x":710,"y":1.48},{"p":"O","s":"b","x":717,"y":1.5},{"p":"O","s":"b","x":726,"y":1.42},{"p":"O","s":"b","x":738,"y":1.2},{"p":"O","s":"b","x":752,"y":0.9},{"p":"O","s":"b","x":770,"y":0.6},{"p":"O","s":"b","x":790,"y":0.45},{"p":"O","s":"b","x":810,"y":0.42},{"p":"O","s":"b","x":830,"y":0.45},{"p":"O","s":"b","x":845,"y":0.5},{"p":"O","s":"b","x":855,"y":0.52},{"p":"O","s":"b","x":863,"y":0.5},{"p":"O","s":"b","x":875,"y":0.35},{"p":"O","s":"b","x":890,"y":0.2},{"p":"O","s":"b","x":910,"y":0.1},{"p":"O","s":"b","x":950,"y":0.04},{"p":"O","s":"b","x":1000,"y":0.015},{"p":"O","s":"b","x":1050,"y":0.015},{"p":"O","s":"b","x":1100,"y":0.005},{"p":"O","s":"b","x":1500,"y":0},
      {"p":"O","s":"g","x":0,"y":0},{"p":"O","s":"g","x":600,"y":0.005},{"p":"O","s":"g","x":650,"y":0.02},{"p":"O","s":"g","x":690,"y":0.05},{"p":"O","s":"g","x":717,"y":0.08},{"p":"O","s":"g","x":740,"y":0.05},{"p":"O","s":"g","x":780,"y":0.02},{"p":"O","s":"g","x":860,"y":0.03},{"p":"O","s":"g","x":890,"y":0.01},{"p":"O","s":"g","x":950,"y":0},{"p":"O","s":"g","x":1500,"y":0}
    ],
    "sticks": [
      {"p":"A","x":553,"h":0.95,"lab":1},{"p":"A","x":887,"h":0.97,"lab":1},
      {"p":"B","x":617,"h":2.5,"lab":1},{"p":"B","x":876,"h":1.5,"lab":1},
      {"p":"C","x":708,"h":1.9,"lab":1},{"p":"C","x":848,"h":0.78,"lab":1},
      {"p":"D","x":405,"h":0.7,"lab":0},{"p":"D","x":455,"h":0.8,"lab":0},{"p":"D","x":542,"h":4.9,"lab":0},{"p":"D","x":560,"h":2.35,"lab":0},{"p":"D","x":585,"h":5.35,"lab":1},{"p":"D","x":596,"h":3.1,"lab":0},{"p":"D","x":716,"h":1.6,"lab":1},{"p":"D","x":880,"h":4.5,"lab":0},{"p":"D","x":894,"h":2.55,"lab":0},{"p":"D","x":902,"h":4.5,"lab":0},{"p":"D","x":908,"h":5.3,"lab":1},{"p":"D","x":918,"h":2.9,"lab":0},
      {"p":"E","x":598,"h":0.86,"lab":0},{"p":"E","x":605,"h":0.8,"lab":0},{"p":"E","x":617,"h":1.04,"lab":1},{"p":"E","x":630,"h":0.65,"lab":0},{"p":"E","x":642,"h":0.93,"lab":0},{"p":"E","x":712,"h":0.36,"lab":0},{"p":"E","x":870,"h":0.57,"lab":0},{"p":"E","x":888,"h":0.64,"lab":1},
      {"p":"F","x":726,"h":1.82,"lab":1},{"p":"F","x":853,"h":0.47,"lab":1},
      {"p":"G","x":400,"h":0.66,"lab":0},{"p":"G","x":420,"h":0.7,"lab":0},{"p":"G","x":460,"h":0.85,"lab":0},{"p":"G","x":524,"h":3.45,"lab":0},{"p":"G","x":540,"h":2.6,"lab":0},{"p":"G","x":566,"h":3.85,"lab":1},{"p":"G","x":595,"h":2.5,"lab":0},{"p":"G","x":700,"h":1.8,"lab":0},{"p":"G","x":712,"h":2.15,"lab":1},{"p":"G","x":872,"h":3.4,"lab":0},{"p":"G","x":880,"h":3.6,"lab":0},{"p":"G","x":895,"h":3.5,"lab":0},{"p":"G","x":906,"h":4.8,"lab":1},{"p":"G","x":914,"h":3.5,"lab":0},
      {"p":"H","x":575,"h":0.22,"lab":0},{"p":"H","x":605,"h":0.88,"lab":0},{"p":"H","x":615,"h":1.12,"lab":1},{"p":"H","x":640,"h":0.6,"lab":0},{"p":"H","x":650,"h":0.73,"lab":0},{"p":"H","x":716,"h":0.42,"lab":1},{"p":"H","x":880,"h":0.53,"lab":0},{"p":"H","x":898,"h":0.62,"lab":1},
      {"p":"I","x":728,"h":1.63,"lab":1},{"p":"I","x":850,"h":0.38,"lab":1},
      {"p":"J","x":420,"h":0.7,"lab":0},{"p":"J","x":466,"h":1.45,"lab":0},{"p":"J","x":539,"h":5.1,"lab":1},{"p":"J","x":602,"h":4.15,"lab":1},{"p":"J","x":720,"h":0.8,"lab":0},{"p":"J","x":870,"h":2.9,"lab":0},{"p":"J","x":907,"h":5.8,"lab":1},
      {"p":"K","x":588,"h":1.02,"lab":0},{"p":"K","x":606,"h":0.85,"lab":0},{"p":"K","x":626,"h":1.25,"lab":1},{"p":"K","x":690,"h":0.7,"lab":1},{"p":"K","x":875,"h":0.76,"lab":1},{"p":"K","x":900,"h":0.53,"lab":0},
      {"p":"L","x":723,"h":1.52,"lab":1},{"p":"L","x":859,"h":0.52,"lab":1},
      {"p":"M","x":446,"h":2.6,"lab":0},{"p":"M","x":507,"h":3.3,"lab":0},{"p":"M","x":589,"h":6.0,"lab":1},{"p":"M","x":700,"h":1.1,"lab":0},{"p":"M","x":870,"h":3.2,"lab":0},{"p":"M","x":911,"h":6.0,"lab":1},
      {"p":"N","x":590,"h":1.35,"lab":1},{"p":"N","x":645,"h":1.0,"lab":1},{"p":"N","x":702,"h":0.75,"lab":1},{"p":"N","x":870,"h":0.62,"lab":0},{"p":"N","x":896,"h":0.6,"lab":1},
      {"p":"O","x":717,"h":1.5,"lab":1},{"p":"O","x":863,"h":0.5,"lab":1}
    ]
  },
  "columns": 4,
  "spacing": 0,
  "bounds": "flush",
  "concat": [
    {
      "width": 103, "height": 25,
      "data": {"values": [{"t": ""}]},
      "mark": {"type": "text"},
      "encoding": {
        "text": {"field": "t"},
        "x": {"datum": 0.5, "type": "quantitative", "scale": {"domain": [0, 1]}, "axis": {"orient": "bottom", "offset": -3, "ticks": false, "labels": false, "title": null, "domainColor": "#3c3c3c", "domainWidth": 1}},
        "y": {"datum": 0.5, "type": "quantitative", "scale": {"domain": [0, 1]}, "axis": {"orient": "right", "offset": -4, "ticks": false, "labels": false, "title": null, "domainColor": "#3c3c3c", "domainWidth": 1}}
      }
    },
    {
      "width": 217, "height": 25,
      "data": {"values": [{"k": 1}]},
      "encoding": {
        "x": {"datum": 0.5, "type": "quantitative", "scale": {"domain": [0, 1]}, "axis": {"orient": "bottom", "offset": -3, "ticks": false, "labels": false, "title": null, "domainColor": "#3c3c3c", "domainWidth": 1}},
        "y": {"datum": 0.5, "type": "quantitative", "scale": {"domain": [0, 1]}, "axis": null}
      },
      "layer": [
        {"mark": {"type": "text", "text": "q", "font": "Liberation Serif", "fontStyle": "italic", "fontSize": 20, "align": "left", "baseline": "alphabetic", "dx": -15, "dy": 5}},
        {"mark": {"type": "text", "text": "c", "font": "Liberation Serif", "fontStyle": "italic", "fontSize": 13.5, "align": "left", "baseline": "alphabetic", "dx": -5, "dy": 8.5}},
        {"mark": {"type": "text", "text": ",0", "font": "Liberation Serif", "fontSize": 13.5, "align": "left", "baseline": "alphabetic", "dx": 1, "dy": 8.5}}
      ]
    },
    {
      "width": 217, "height": 25,
      "data": {"values": [{"k": 2}]},
      "encoding": {
        "x": {"datum": 0.5, "type": "quantitative", "scale": {"domain": [0, 1]}, "axis": {"orient": "bottom", "offset": -3, "ticks": false, "labels": false, "title": null, "domainColor": "#3c3c3c", "domainWidth": 1}},
        "y": {"datum": 0.5, "type": "quantitative", "scale": {"domain": [0, 1]}, "axis": null}
      },
      "layer": [
        {"mark": {"type": "text", "text": "span(", "font": "Liberation Serif", "fontSize": 20, "align": "left", "baseline": "alphabetic", "dx": -64, "dy": 5}},
        {"mark": {"type": "text", "text": "q", "font": "Liberation Serif", "fontStyle": "italic", "fontSize": 20, "align": "left", "baseline": "alphabetic", "dx": -20.7, "dy": 5}},
        {"mark": {"type": "text", "text": "c", "font": "Liberation Serif", "fontStyle": "italic", "fontSize": 13.5, "align": "left", "baseline": "alphabetic", "dx": -10.7, "dy": 8.5}},
        {"mark": {"type": "text", "text": ",1", "font": "Liberation Serif", "fontSize": 13.5, "align": "left", "baseline": "alphabetic", "dx": -4.7, "dy": 8.5}},
        {"mark": {"type": "text", "text": ",", "font": "Liberation Serif", "fontSize": 20, "align": "left", "baseline": "alphabetic", "dx": 5.4, "dy": 5}},
        {"mark": {"type": "text", "text": "q", "font": "Liberation Serif", "fontStyle": "italic", "fontSize": 20, "align": "left", "baseline": "alphabetic", "dx": 13.8, "dy": 5}},
        {"mark": {"type": "text", "text": "s", "font": "Liberation Serif", "fontStyle": "italic", "fontSize": 13.5, "align": "left", "baseline": "alphabetic", "dx": 23.8, "dy": 8.5}},
        {"mark": {"type": "text", "text": ",1", "font": "Liberation Serif", "fontSize": 13.5, "align": "left", "baseline": "alphabetic", "dx": 29.1, "dy": 8.5}},
        {"mark": {"type": "text", "text": ")", "font": "Liberation Serif", "fontSize": 20, "align": "left", "baseline": "alphabetic", "dx": 39.2, "dy": 5}}
      ]
    },
    {
      "width": 209, "height": 25,
      "data": {"values": [{"k": 3}]},
      "encoding": {
        "x": {"datum": 0.5, "type": "quantitative", "scale": {"domain": [0, 1]}, "axis": {"orient": "bottom", "offset": -3, "ticks": false, "labels": false, "title": null, "domainColor": "#3c3c3c", "domainWidth": 1}},
        "y": {"datum": 0.5, "type": "quantitative", "scale": {"domain": [0, 1]}, "axis": null}
      },
      "layer": [
        {"mark": {"type": "text", "text": "span(", "font": "Liberation Serif", "fontSize": 20, "align": "left", "baseline": "alphabetic", "dx": -60, "dy": 5}},
        {"mark": {"type": "text", "text": "q", "font": "Liberation Serif", "fontStyle": "italic", "fontSize": 20, "align": "left", "baseline": "alphabetic", "dx": -16.7, "dy": 5}},
        {"mark": {"type": "text", "text": "c", "font": "Liberation Serif", "fontStyle": "italic", "fontSize": 13.5, "align": "left", "baseline": "alphabetic", "dx": -6.7, "dy": 8.5}},
        {"mark": {"type": "text", "text": ",2", "font": "Liberation Serif", "fontSize": 13.5, "align": "left", "baseline": "alphabetic", "dx": -0.7, "dy": 8.5}},
        {"mark": {"type": "text", "text": ",", "font": "Liberation Serif", "fontSize": 20, "align": "left", "baseline": "alphabetic", "dx": 9.4, "dy": 5}},
        {"mark": {"type": "text", "text": "q", "font": "Liberation Serif", "fontStyle": "italic", "fontSize": 20, "align": "left", "baseline": "alphabetic", "dx": 17.8, "dy": 5}},
        {"mark": {"type": "text", "text": "s", "font": "Liberation Serif", "fontStyle": "italic", "fontSize": 13.5, "align": "left", "baseline": "alphabetic", "dx": 27.8, "dy": 8.5}},
        {"mark": {"type": "text", "text": ",2", "font": "Liberation Serif", "fontSize": 13.5, "align": "left", "baseline": "alphabetic", "dx": 33.1, "dy": 8.5}},
        {"mark": {"type": "text", "text": ")", "font": "Liberation Serif", "fontSize": 20, "align": "left", "baseline": "alphabetic", "dx": 43.2, "dy": 5}}
      ]
    },

    {"width": 103, "height": 173, "data": {"values": [{"name": "5-ring"}]}, "mark": {"type": "text", "font": "Liberation Serif", "fontSize": 18, "color": "#000"}, "encoding": {"text": {"field": "name"}, "x": {"datum": 0.48, "type": "quantitative", "scale": {"domain": [0, 1]}, "axis": null}, "y": {"datum": 0.5, "type": "quantitative", "scale": {"domain": [0, 1]}, "axis": {"orient": "right", "offset": -4, "ticks": false, "labels": false, "title": null, "domainColor": "#3c3c3c", "domainWidth": 1}}}},
    {
      "width": 217, "height": 173,
      "layer": [
        {"data": {"name": "sticks"}, "transform": [{"filter": "datum.p === 'A'"}], "mark": {"type": "rule", "color": "#e8603c", "strokeWidth": 0.8, "strokeDash": [1.5, 2]}, "encoding": {"x": {"field": "x", "type": "quantitative", "axis": {"orient": "top", "offset": -20, "values": [0,200,400,600,800,1000,1200,1400], "labels": false, "title": "circulant IC", "titleFontSize": 7.3, "titleY": -6, "titleBaseline": "alphabetic"}}, "y": {"field": "h", "type": "quantitative", "axis": {"orient": "right", "offset": -7, "values": [0,0.2,0.4,0.6,0.8,1.0], "labels": false, "title": null}}, "y2": {"datum": 0}}},
        {"data": {"name": "curves"}, "transform": [{"filter": "datum.p === 'A' && datum.s === 'b'"}], "mark": {"type": "line", "color": "#6262cc", "strokeWidth": 0.9, "interpolate": "monotone"}, "encoding": {"x": {"field": "x", "type": "quantitative", "scale": {"domain": [0, 1500], "range": [38, 210], "nice": false, "zero": false}, "axis": {"orient": "bottom", "offset": -22, "values": [0,200,400,600,800,1000,1200,1400], "format": "d", "title": "Wavenumber [1/cm]", "titleFontSize": 5.9, "titleY": 14, "titleBaseline": "alphabetic"}}, "y": {"field": "y", "type": "quantitative", "scale": {"domain": [0, 1.137], "range": [151, 20], "nice": false, "zero": false}, "axis": {"orient": "left", "offset": -38, "values": [0,0.2,0.4,0.6,0.8,1.0], "format": ".1f", "title": "1e\u22129", "titleAngle": 0, "titleX": 7, "titleY": 15.5, "titleAlign": "left", "titleBaseline": "alphabetic", "titleFontSize": 8}}}},
        {"data": {"name": "sticks"}, "transform": [{"filter": "datum.p === 'A' && datum.lab === 1"}], "mark": {"type": "text", "align": "left", "baseline": "alphabetic", "dx": -1, "fontSize": 9, "color": "#111"}, "encoding": {"x": {"field": "x", "type": "quantitative", "axis": null}, "y": {"field": "h", "type": "quantitative", "axis": null}, "text": {"field": "x", "type": "quantitative", "format": "d"}}}
      ],
      "resolve": {"axis": {"x": "independent", "y": "independent"}}
    },
    {
      "width": 217, "height": 173,
      "layer": [
        {"data": {"name": "sticks"}, "transform": [{"filter": "datum.p === 'B'"}], "mark": {"type": "rule", "color": "#e8603c", "strokeWidth": 0.8, "strokeDash": [1.5, 2]}, "encoding": {"x": {"field": "x", "type": "quantitative", "axis": {"orient": "top", "offset": -20, "values": [0,200,400,600,800,1000,1200,1400], "labels": false, "title": "circulant IC", "titleFontSize": 7.3, "titleY": -6, "titleBaseline": "alphabetic"}}, "y": {"field": "h", "type": "quantitative", "axis": {"orient": "right", "offset": -7, "values": [0,0.5,1.0,1.5,2.0,2.5], "labels": false, "title": null}}, "y2": {"datum": 0}}},
        {"data": {"name": "curves"}, "transform": [{"filter": "datum.p === 'B' && datum.s === 'b'"}], "mark": {"type": "line", "color": "#6262cc", "strokeWidth": 0.9, "interpolate": "monotone"}, "encoding": {"x": {"field": "x", "type": "quantitative", "scale": {"domain": [0, 1500], "range": [38, 210], "nice": false, "zero": false}, "axis": {"orient": "bottom", "offset": -22, "values": [0,200,400,600,800,1000,1200,1400], "format": "d", "title": "Wavenumber [1/cm]", "titleFontSize": 5.9, "titleY": 14, "titleBaseline": "alphabetic"}}, "y": {"field": "y", "type": "quantitative", "scale": {"domain": [0, 2.95], "range": [151, 20], "nice": false, "zero": false}, "axis": {"orient": "left", "offset": -38, "values": [0,0.5,1.0,1.5,2.0,2.5], "format": ".1f", "title": "1e\u22129", "titleAngle": 0, "titleX": 7, "titleY": 15.5, "titleAlign": "left", "titleBaseline": "alphabetic", "titleFontSize": 8}}}},
        {"data": {"name": "sticks"}, "transform": [{"filter": "datum.p === 'B' && datum.lab === 1"}], "mark": {"type": "text", "align": "left", "baseline": "alphabetic", "dx": -1, "fontSize": 9, "color": "#111"}, "encoding": {"x": {"field": "x", "type": "quantitative", "axis": null}, "y": {"field": "h", "type": "quantitative", "axis": null}, "text": {"field": "x", "type": "quantitative", "format": "d"}}}
      ],
      "resolve": {"axis": {"x": "independent", "y": "independent"}}
    },
    {
      "width": 209, "height": 173,
      "layer": [
        {"data": {"name": "sticks"}, "transform": [{"filter": "datum.p === 'C'"}], "mark": {"type": "rule", "color": "#e8603c", "strokeWidth": 0.8, "strokeDash": [1.5, 2]}, "encoding": {"x": {"field": "x", "type": "quantitative", "axis": {"orient": "top", "offset": -20, "values": [0,200,400,600,800,1000,1200,1400], "labels": false, "title": "circulant IC", "titleFontSize": 7.3, "titleY": -6, "titleBaseline": "alphabetic"}}, "y": {"field": "h", "type": "quantitative", "axis": null}, "y2": {"datum": 0}}},
        {"data": {"name": "curves"}, "transform": [{"filter": "datum.p === 'C' && datum.s === 'b'"}], "mark": {"type": "line", "color": "#6262cc", "strokeWidth": 0.9, "interpolate": "monotone"}, "encoding": {"x": {"field": "x", "type": "quantitative", "scale": {"domain": [0, 1500], "range": [38, 210], "nice": false, "zero": false}, "axis": {"orient": "bottom", "offset": -22, "values": [0,200,400,600,800,1000,1200,1400], "format": "d", "title": "Wavenumber [1/cm]", "titleFontSize": 5.9, "titleY": 14, "titleBaseline": "alphabetic"}}, "y": {"field": "y", "type": "quantitative", "scale": {"domain": [0, 2.27], "range": [151, 20], "nice": false, "zero": false}, "axis": {"orient": "left", "offset": -38, "values": [0,0.5,1.0,1.5,2.0], "format": ".1f", "title": "1e\u22129", "titleAngle": 0, "titleX": 7, "titleY": 15.5, "titleAlign": "left", "titleBaseline": "alphabetic", "titleFontSize": 8}}}},
        {"data": {"name": "sticks"}, "transform": [{"filter": "datum.p === 'C' && datum.lab === 1"}], "mark": {"type": "text", "align": "left", "baseline": "alphabetic", "dx": -1, "fontSize": 9, "color": "#111"}, "encoding": {"x": {"field": "x", "type": "quantitative", "axis": null}, "y": {"field": "h", "type": "quantitative", "axis": null}, "text": {"field": "x", "type": "quantitative", "format": "d"}}}
      ],
      "resolve": {"axis": {"x": "independent", "y": "independent"}}
    },

    {"width": 103, "height": 173, "data": {"values": [{"name": "8T(2 \u00d7 5)"}]}, "mark": {"type": "text", "font": "Liberation Serif", "fontSize": 18, "color": "#000"}, "encoding": {"text": {"field": "name"}, "x": {"datum": 0.48, "type": "quantitative", "scale": {"domain": [0, 1]}, "axis": null}, "y": {"datum": 0.5, "type": "quantitative", "scale": {"domain": [0, 1]}, "axis": {"orient": "right", "offset": -4, "ticks": false, "labels": false, "title": null, "domainColor": "#3c3c3c", "domainWidth": 1}}}},
    {
      "width": 217, "height": 173,
      "layer": [
        {"data": {"name": "curves"}, "transform": [{"filter": "datum.p === 'D' && datum.s === 'g'"}], "mark": {"type": "line", "color": "#3aa03a", "strokeWidth": 0.8, "interpolate": "monotone"}, "encoding": {"x": {"field": "x", "type": "quantitative", "axis": null}, "y": {"field": "y", "type": "quantitative", "axis": null}}},
        {"data": {"name": "sticks"}, "transform": [{"filter": "datum.p === 'D'"}], "mark": {"type": "rule", "color": "#e8603c", "strokeWidth": 0.8, "strokeDash": [1.5, 2]}, "encoding": {"x": {"field": "x", "type": "quantitative", "axis": {"orient": "top", "offset": -20, "values": [0,200,400,600,800,1000,1200,1400], "labels": false, "title": "circulant IC", "titleFontSize": 7.3, "titleY": -6, "titleBaseline": "alphabetic"}}, "y": {"field": "h", "type": "quantitative", "axis": {"orient": "right", "offset": -7, "values": [0,1,2,3,4,5,6], "labels": false, "title": null}}, "y2": {"datum": 0}}},
        {"data": {"name": "curves"}, "transform": [{"filter": "datum.p === 'D' && datum.s === 'b'"}], "mark": {"type": "line", "color": "#6262cc", "strokeWidth": 0.9, "interpolate": "monotone"}, "encoding": {"x": {"field": "x", "type": "quantitative", "scale": {"domain": [0, 1500], "range": [38, 210], "nice": false, "zero": false}, "axis": {"orient": "bottom", "offset": -22, "values": [0,200,400,600,800,1000,1200,1400], "format": "d", "title": "Wavenumber [1/cm]", "titleFontSize": 5.9, "titleY": 14, "titleBaseline": "alphabetic"}}, "y": {"field": "y", "type": "quantitative", "scale": {"domain": [0, 6.43], "range": [151, 20], "nice": false, "zero": false}, "axis": {"orient": "left", "offset": -38, "values": [0,1,2,3,4,5,6], "format": "d", "title": "1e\u221210", "titleAngle": 0, "titleX": 7, "titleY": 15.5, "titleAlign": "left", "titleBaseline": "alphabetic", "titleFontSize": 8}}}},
        {"data": {"name": "sticks"}, "transform": [{"filter": "datum.p === 'D' && datum.lab === 1"}], "mark": {"type": "text", "align": "left", "baseline": "alphabetic", "dx": -1, "fontSize": 9, "color": "#111"}, "encoding": {"x": {"field": "x", "type": "quantitative", "axis": null}, "y": {"field": "h", "type": "quantitative", "axis": null}, "text": {"field": "x", "type": "quantitative", "format": "d"}}}
      ],
      "resolve": {"axis": {"x": "independent", "y": "independent"}}
    },
    {
      "width": 217, "height": 173,
      "layer": [
        {"data": {"name": "curves"}, "transform": [{"filter": "datum.p === 'E' && datum.s === 'g'"}], "mark": {"type": "line", "color": "#3aa03a", "strokeWidth": 0.8, "interpolate": "monotone"}, "encoding": {"x": {"field": "x", "type": "quantitative", "axis": null}, "y": {"field": "y", "type": "quantitative", "axis": null}}},
        {"data": {"name": "sticks"}, "transform": [{"filter": "datum.p === 'E'"}], "mark": {"type": "rule", "color": "#e8603c", "strokeWidth": 0.8, "strokeDash": [1.5, 2]}, "encoding": {"x": {"field": "x", "type": "quantitative", "axis": {"orient": "top", "offset": -20, "values": [0,200,400,600,800,1000,1200,1400], "labels": false, "title": "circulant IC", "titleFontSize": 7.3, "titleY": -6, "titleBaseline": "alphabetic"}}, "y": {"field": "h", "type": "quantitative", "axis": {"orient": "right", "offset": -7, "values": [0,0.2,0.4,0.6,0.8,1.0,1.2], "labels": false, "title": null}}, "y2": {"datum": 0}}},
        {"data": {"name": "curves"}, "transform": [{"filter": "datum.p === 'E' && datum.s === 'b'"}], "mark": {"type": "line", "color": "#6262cc", "strokeWidth": 0.9, "interpolate": "monotone"}, "encoding": {"x": {"field": "x", "type": "quantitative", "scale": {"domain": [0, 1500], "range": [38, 210], "nice": false, "zero": false}, "axis": {"orient": "bottom", "offset": -22, "values": [0,200,400,600,800,1000,1200,1400], "format": "d", "title": "Wavenumber [1/cm]", "titleFontSize": 5.9, "titleY": 14, "titleBaseline": "alphabetic"}}, "y": {"field": "y", "type": "quantitative", "scale": {"domain": [0, 1.254], "range": [151, 20], "nice": false, "zero": false}, "axis": {"orient": "left", "offset": -38, "values": [0,0.2,0.4,0.6,0.8,1.0,1.2], "format": ".1f", "title": "1e\u22129", "titleAngle": 0, "titleX": 7, "titleY": 15.5, "titleAlign": "left", "titleBaseline": "alphabetic", "titleFontSize": 8}}}},
        {"data": {"name": "sticks"}, "transform": [{"filter": "datum.p === 'E' && datum.lab === 1"}], "mark": {"type": "text", "align": "left", "baseline": "alphabetic", "dx": -1, "fontSize": 9, "color": "#111"}, "encoding": {"x": {"field": "x", "type": "quantitative", "axis": null}, "y": {"field": "h", "type": "quantitative", "axis": null}, "text": {"field": "x", "type": "quantitative", "format": "d"}}}
      ],
      "resolve": {"axis": {"x": "independent", "y": "independent"}}
    },
    {
      "width": 209, "height": 173,
      "layer": [
        {"data": {"name": "curves"}, "transform": [{"filter": "datum.p === 'F' && datum.s === 'g'"}], "mark": {"type": "line", "color": "#3aa03a", "strokeWidth": 0.8, "interpolate": "monotone"}, "encoding": {"x": {"field": "x", "type": "quantitative", "axis": null}, "y": {"field": "y", "type": "quantitative", "axis": null}}},
        {"data": {"name": "sticks"}, "transform": [{"filter": "datum.p === 'F'"}], "mark": {"type": "rule", "color": "#e8603c", "strokeWidth": 0.8, "strokeDash": [1.5, 2]}, "encoding": {"x": {"field": "x", "type": "quantitative", "axis": {"orient": "top", "offset": -20, "values": [0,200,400,600,800,1000,1200,1400], "labels": false, "title": "circulant IC", "titleFontSize": 7.3, "titleY": -6, "titleBaseline": "alphabetic"}}, "y": {"field": "h", "type": "quantitative", "axis": null}, "y2": {"datum": 0}}},
        {"data": {"name": "curves"}, "transform": [{"filter": "datum.p === 'F' && datum.s === 'b'"}], "mark": {"type": "line", "color": "#6262cc", "strokeWidth": 0.9, "interpolate": "monotone"}, "encoding": {"x": {"field": "x", "type": "quantitative", "scale": {"domain": [0, 1500], "range": [38, 210], "nice": false, "zero": false}, "axis": {"orient": "bottom", "offset": -22, "values": [0,200,400,600,800,1000,1200,1400], "format": "d", "title": "Wavenumber [1/cm]", "titleFontSize": 5.9, "titleY": 14, "titleBaseline": "alphabetic"}}, "y": {"field": "y", "type": "quantitative", "scale": {"domain": [0, 2.18], "range": [151, 20], "nice": false, "zero": false}, "axis": {"orient": "left", "offset": -38, "values": [0,0.5,1.0,1.5,2.0], "format": ".1f", "title": "1e\u22129", "titleAngle": 0, "titleX": 7, "titleY": 15.5, "titleAlign": "left", "titleBaseline": "alphabetic", "titleFontSize": 8}}}},
        {"data": {"name": "sticks"}, "transform": [{"filter": "datum.p === 'F' && datum.lab === 1"}], "mark": {"type": "text", "align": "left", "baseline": "alphabetic", "dx": -1, "fontSize": 9, "color": "#111"}, "encoding": {"x": {"field": "x", "type": "quantitative", "axis": null}, "y": {"field": "h", "type": "quantitative", "axis": null}, "text": {"field": "x", "type": "quantitative", "format": "d"}}}
      ],
      "resolve": {"axis": {"x": "independent", "y": "independent"}}
    },

    {"width": 103, "height": 173, "data": {"values": [{"name": "11T(3 \u00d7 5)"}]}, "mark": {"type": "text", "font": "Liberation Serif", "fontSize": 18, "color": "#000"}, "encoding": {"text": {"field": "name"}, "x": {"datum": 0.48, "type": "quantitative", "scale": {"domain": [0, 1]}, "axis": null}, "y": {"datum": 0.5, "type": "quantitative", "scale": {"domain": [0, 1]}, "axis": {"orient": "right", "offset": -4, "ticks": false, "labels": false, "title": null, "domainColor": "#3c3c3c", "domainWidth": 1}}}},
    {
      "width": 217, "height": 173,
      "layer": [
        {"data": {"name": "curves"}, "transform": [{"filter": "datum.p === 'G' && datum.s === 'g'"}], "mark": {"type": "line", "color": "#3aa03a", "strokeWidth": 0.8, "interpolate": "monotone"}, "encoding": {"x": {"field": "x", "type": "quantitative", "axis": null}, "y": {"field": "y", "type": "quantitative", "axis": null}}},
        {"data": {"name": "sticks"}, "transform": [{"filter": "datum.p === 'G'"}], "mark": {"type": "rule", "color": "#e8603c", "strokeWidth": 0.8, "strokeDash": [1.5, 2]}, "encoding": {"x": {"field": "x", "type": "quantitative", "axis": {"orient": "top", "offset": -20, "values": [0,200,400,600,800,1000,1200,1400], "labels": false, "title": "circulant IC", "titleFontSize": 7.3, "titleY": -6, "titleBaseline": "alphabetic"}}, "y": {"field": "h", "type": "quantitative", "axis": {"orient": "right", "offset": -7, "values": [0,1,2,3,4,5], "labels": false, "title": null}}, "y2": {"datum": 0}}},
        {"data": {"name": "curves"}, "transform": [{"filter": "datum.p === 'G' && datum.s === 'b'"}], "mark": {"type": "line", "color": "#6262cc", "strokeWidth": 0.9, "interpolate": "monotone"}, "encoding": {"x": {"field": "x", "type": "quantitative", "scale": {"domain": [0, 1500], "range": [38, 210], "nice": false, "zero": false}, "axis": {"orient": "bottom", "offset": -22, "values": [0,200,400,600,800,1000,1200,1400], "format": "d", "title": "Wavenumber [1/cm]", "titleFontSize": 5.9, "titleY": 14, "titleBaseline": "alphabetic"}}, "y": {"field": "y", "type": "quantitative", "scale": {"domain": [0, 5.69], "range": [151, 20], "nice": false, "zero": false}, "axis": {"orient": "left", "offset": -38, "values": [0,1,2,3,4,5], "format": "d", "title": "1e\u221210", "titleAngle": 0, "titleX": 7, "titleY": 15.5, "titleAlign": "left", "titleBaseline": "alphabetic", "titleFontSize": 8}}}},
        {"data": {"name": "sticks"}, "transform": [{"filter": "datum.p === 'G' && datum.lab === 1"}], "mark": {"type": "text", "align": "left", "baseline": "alphabetic", "dx": -1, "fontSize": 9, "color": "#111"}, "encoding": {"x": {"field": "x", "type": "quantitative", "axis": null}, "y": {"field": "h", "type": "quantitative", "axis": null}, "text": {"field": "x", "type": "quantitative", "format": "d"}}}
      ],
      "resolve": {"axis": {"x": "independent", "y": "independent"}}
    },
    {
      "width": 217, "height": 173,
      "layer": [
        {"data": {"name": "curves"}, "transform": [{"filter": "datum.p === 'H' && datum.s === 'g'"}], "mark": {"type": "line", "color": "#3aa03a", "strokeWidth": 0.8, "interpolate": "monotone"}, "encoding": {"x": {"field": "x", "type": "quantitative", "axis": null}, "y": {"field": "y", "type": "quantitative", "axis": null}}},
        {"data": {"name": "sticks"}, "transform": [{"filter": "datum.p === 'H'"}], "mark": {"type": "rule", "color": "#e8603c", "strokeWidth": 0.8, "strokeDash": [1.5, 2]}, "encoding": {"x": {"field": "x", "type": "quantitative", "axis": {"orient": "top", "offset": -20, "values": [0,200,400,600,800,1000,1200,1400], "labels": false, "title": "circulant IC", "titleFontSize": 7.3, "titleY": -6, "titleBaseline": "alphabetic"}}, "y": {"field": "h", "type": "quantitative", "axis": {"orient": "right", "offset": -7, "values": [0,0.2,0.4,0.6,0.8,1.0,1.2], "labels": false, "title": null}}, "y2": {"datum": 0}}},
        {"data": {"name": "curves"}, "transform": [{"filter": "datum.p === 'H' && datum.s === 'b'"}], "mark": {"type": "line", "color": "#6262cc", "strokeWidth": 0.9, "interpolate": "monotone"}, "encoding": {"x": {"field": "x", "type": "quantitative", "scale": {"domain": [0, 1500], "range": [38, 210], "nice": false, "zero": false}, "axis": {"orient": "bottom", "offset": -22, "values": [0,200,400,600,800,1000,1200,1400], "format": "d", "title": "Wavenumber [1/cm]", "titleFontSize": 5.9, "titleY": 14, "titleBaseline": "alphabetic"}}, "y": {"field": "y", "type": "quantitative", "scale": {"domain": [0, 1.35], "range": [151, 20], "nice": false, "zero": false}, "axis": {"orient": "left", "offset": -38, "values": [0,0.2,0.4,0.6,0.8,1.0,1.2], "format": ".1f", "title": "1e\u22129", "titleAngle": 0, "titleX": 7, "titleY": 15.5, "titleAlign": "left", "titleBaseline": "alphabetic", "titleFontSize": 8}}}},
        {"data": {"name": "sticks"}, "transform": [{"filter": "datum.p === 'H' && datum.lab === 1"}], "mark": {"type": "text", "align": "left", "baseline": "alphabetic", "dx": -1, "fontSize": 9, "color": "#111"}, "encoding": {"x": {"field": "x", "type": "quantitative", "axis": null}, "y": {"field": "h", "type": "quantitative", "axis": null}, "text": {"field": "x", "type": "quantitative", "format": "d"}}}
      ],
      "resolve": {"axis": {"x": "independent", "y": "independent"}}
    },
    {
      "width": 209, "height": 173,
      "layer": [
        {"data": {"name": "curves"}, "transform": [{"filter": "datum.p === 'I' && datum.s === 'g'"}], "mark": {"type": "line", "color": "#3aa03a", "strokeWidth": 0.8, "interpolate": "monotone"}, "encoding": {"x": {"field": "x", "type": "quantitative", "axis": null}, "y": {"field": "y", "type": "quantitative", "axis": null}}},
        {"data": {"name": "sticks"}, "transform": [{"filter": "datum.p === 'I'"}], "mark": {"type": "rule", "color": "#e8603c", "strokeWidth": 0.8, "strokeDash": [1.5, 2]}, "encoding": {"x": {"field": "x", "type": "quantitative", "axis": {"orient": "top", "offset": -20, "values": [0,200,400,600,800,1000,1200,1400], "labels": false, "title": "circulant IC", "titleFontSize": 7.3, "titleY": -6, "titleBaseline": "alphabetic"}}, "y": {"field": "h", "type": "quantitative", "axis": null}, "y2": {"datum": 0}}},
        {"data": {"name": "curves"}, "transform": [{"filter": "datum.p === 'I' && datum.s === 'b'"}], "mark": {"type": "line", "color": "#6262cc", "strokeWidth": 0.9, "interpolate": "monotone"}, "encoding": {"x": {"field": "x", "type": "quantitative", "scale": {"domain": [0, 1500], "range": [38, 210], "nice": false, "zero": false}, "axis": {"orient": "bottom", "offset": -22, "values": [0,200,400,600,800,1000,1200,1400], "format": "d", "title": "Wavenumber [1/cm]", "titleFontSize": 5.9, "titleY": 14, "titleBaseline": "alphabetic"}}, "y": {"field": "y", "type": "quantitative", "scale": {"domain": [0, 1.96], "range": [151, 20], "nice": false, "zero": false}, "axis": {"orient": "left", "offset": -38, "values": [0,0.5,1.0,1.5], "format": ".1f", "title": "1e\u22129", "titleAngle": 0, "titleX": 7, "titleY": 15.5, "titleAlign": "left", "titleBaseline": "alphabetic", "titleFontSize": 8}}}},
        {"data": {"name": "sticks"}, "transform": [{"filter": "datum.p === 'I' && datum.lab === 1"}], "mark": {"type": "text", "align": "left", "baseline": "alphabetic", "dx": -1, "fontSize": 9, "color": "#111"}, "encoding": {"x": {"field": "x", "type": "quantitative", "axis": null}, "y": {"field": "h", "type": "quantitative", "axis": null}, "text": {"field": "x", "type": "quantitative", "format": "d"}}}
      ],
      "resolve": {"axis": {"x": "independent", "y": "independent"}}
    },

    {"width": 103, "height": 173, "data": {"values": [{"name": "7T(2 \u00d7 5)"}]}, "mark": {"type": "text", "font": "Liberation Serif", "fontSize": 18, "color": "#000"}, "encoding": {"text": {"field": "name"}, "x": {"datum": 0.48, "type": "quantitative", "scale": {"domain": [0, 1]}, "axis": null}, "y": {"datum": 0.5, "type": "quantitative", "scale": {"domain": [0, 1]}, "axis": {"orient": "right", "offset": -4, "ticks": false, "labels": false, "title": null, "domainColor": "#3c3c3c", "domainWidth": 1}}}},
    {
      "width": 217, "height": 173,
      "layer": [
        {"data": {"name": "curves"}, "transform": [{"filter": "datum.p === 'J' && datum.s === 'g'"}], "mark": {"type": "line", "color": "#3aa03a", "strokeWidth": 0.8, "interpolate": "monotone"}, "encoding": {"x": {"field": "x", "type": "quantitative", "axis": null}, "y": {"field": "y", "type": "quantitative", "axis": null}}},
        {"data": {"name": "sticks"}, "transform": [{"filter": "datum.p === 'J'"}], "mark": {"type": "rule", "color": "#e8603c", "strokeWidth": 0.8, "strokeDash": [1.5, 2]}, "encoding": {"x": {"field": "x", "type": "quantitative", "axis": {"orient": "top", "offset": -20, "values": [0,200,400,600,800,1000,1200,1400], "labels": false, "title": "circulant IC", "titleFontSize": 7.3, "titleY": -6, "titleBaseline": "alphabetic"}}, "y": {"field": "h", "type": "quantitative", "axis": {"orient": "right", "offset": -7, "values": [0,1,2,3,4,5,6], "labels": false, "title": null}}, "y2": {"datum": 0}}},
        {"data": {"name": "curves"}, "transform": [{"filter": "datum.p === 'J' && datum.s === 'b'"}], "mark": {"type": "line", "color": "#6262cc", "strokeWidth": 0.9, "interpolate": "monotone"}, "encoding": {"x": {"field": "x", "type": "quantitative", "scale": {"domain": [0, 1500], "range": [38, 210], "nice": false, "zero": false}, "axis": {"orient": "bottom", "offset": -22, "values": [0,200,400,600,800,1000,1200,1400], "format": "d", "title": "Wavenumber [1/cm]", "titleFontSize": 5.9, "titleY": 14, "titleBaseline": "alphabetic"}}, "y": {"field": "y", "type": "quantitative", "scale": {"domain": [0, 6.87], "range": [151, 20], "nice": false, "zero": false}, "axis": {"orient": "left", "offset": -38, "values": [0,1,2,3,4,5,6], "format": "d", "title": "1e\u221210", "titleAngle": 0, "titleX": 7, "titleY": 15.5, "titleAlign": "left", "titleBaseline": "alphabetic", "titleFontSize": 8}}}},
        {"data": {"name": "sticks"}, "transform": [{"filter": "datum.p === 'J' && datum.lab === 1"}], "mark": {"type": "text", "align": "left", "baseline": "alphabetic", "dx": -1, "fontSize": 9, "color": "#111"}, "encoding": {"x": {"field": "x", "type": "quantitative", "axis": null}, "y": {"field": "h", "type": "quantitative", "axis": null}, "text": {"field": "x", "type": "quantitative", "format": "d"}}}
      ],
      "resolve": {"axis": {"x": "independent", "y": "independent"}}
    },
    {
      "width": 217, "height": 173,
      "layer": [
        {"data": {"name": "curves"}, "transform": [{"filter": "datum.p === 'K' && datum.s === 'g'"}], "mark": {"type": "line", "color": "#3aa03a", "strokeWidth": 0.8, "interpolate": "monotone"}, "encoding": {"x": {"field": "x", "type": "quantitative", "axis": null}, "y": {"field": "y", "type": "quantitative", "axis": null}}},
        {"data": {"name": "sticks"}, "transform": [{"filter": "datum.p === 'K'"}], "mark": {"type": "rule", "color": "#e8603c", "strokeWidth": 0.8, "strokeDash": [1.5, 2]}, "encoding": {"x": {"field": "x", "type": "quantitative", "axis": {"orient": "top", "offset": -20, "values": [0,200,400,600,800,1000,1200,1400], "labels": false, "title": "circulant IC", "titleFontSize": 7.3, "titleY": -6, "titleBaseline": "alphabetic"}}, "y": {"field": "h", "type": "quantitative", "axis": {"orient": "right", "offset": -7, "values": [0,0.2,0.4,0.6,0.8,1.0,1.2,1.4], "labels": false, "title": null}}, "y2": {"datum": 0}}},
        {"data": {"name": "curves"}, "transform": [{"filter": "datum.p === 'K' && datum.s === 'b'"}], "mark": {"type": "line", "color": "#6262cc", "strokeWidth": 0.9, "interpolate": "monotone"}, "encoding": {"x": {"field": "x", "type": "quantitative", "scale": {"domain": [0, 1500], "range": [38, 210], "nice": false, "zero": false}, "axis": {"orient": "bottom", "offset": -22, "values": [0,200,400,600,800,1000,1200,1400], "format": "d", "title": "Wavenumber [1/cm]", "titleFontSize": 5.9, "titleY": 14, "titleBaseline": "alphabetic"}}, "y": {"field": "y", "type": "quantitative", "scale": {"domain": [0, 1.48], "range": [151, 20], "nice": false, "zero": false}, "axis": {"orient": "left", "offset": -38, "values": [0,0.2,0.4,0.6,0.8,1.0,1.2,1.4], "format": ".1f", "title": "1e\u22129", "titleAngle": 0, "titleX": 7, "titleY": 15.5, "titleAlign": "left", "titleBaseline": "alphabetic", "titleFontSize": 8}}}},
        {"data": {"name": "sticks"}, "transform": [{"filter": "datum.p === 'K' && datum.lab === 1"}], "mark": {"type": "text", "align": "left", "baseline": "alphabetic", "dx": -1, "fontSize": 9, "color": "#111"}, "encoding": {"x": {"field": "x", "type": "quantitative", "axis": null}, "y": {"field": "h", "type": "quantitative", "axis": null}, "text": {"field": "x", "type": "quantitative", "format": "d"}}}
      ],
      "resolve": {"axis": {"x": "independent", "y": "independent"}}
    },
    {
      "width": 209, "height": 173,
      "layer": [
        {"data": {"name": "curves"}, "transform": [{"filter": "datum.p === 'L' && datum.s === 'g'"}], "mark": {"type": "line", "color": "#3aa03a", "strokeWidth": 0.8, "interpolate": "monotone"}, "encoding": {"x": {"field": "x", "type": "quantitative", "axis": null}, "y": {"field": "y", "type": "quantitative", "axis": null}}},
        {"data": {"name": "sticks"}, "transform": [{"filter": "datum.p === 'L'"}], "mark": {"type": "rule", "color": "#e8603c", "strokeWidth": 0.8, "strokeDash": [1.5, 2]}, "encoding": {"x": {"field": "x", "type": "quantitative", "axis": {"orient": "top", "offset": -20, "values": [0,200,400,600,800,1000,1200,1400], "labels": false, "title": "circulant IC", "titleFontSize": 7.3, "titleY": -6, "titleBaseline": "alphabetic"}}, "y": {"field": "h", "type": "quantitative", "axis": null}, "y2": {"datum": 0}}},
        {"data": {"name": "curves"}, "transform": [{"filter": "datum.p === 'L' && datum.s === 'b'"}], "mark": {"type": "line", "color": "#6262cc", "strokeWidth": 0.9, "interpolate": "monotone"}, "encoding": {"x": {"field": "x", "type": "quantitative", "scale": {"domain": [0, 1500], "range": [38, 210], "nice": false, "zero": false}, "axis": {"orient": "bottom", "offset": -22, "values": [0,200,400,600,800,1000,1200,1400], "format": "d", "title": "Wavenumber [1/cm]", "titleFontSize": 5.9, "titleY": 14, "titleBaseline": "alphabetic"}}, "y": {"field": "y", "type": "quantitative", "scale": {"domain": [0, 1.89], "range": [151, 20], "nice": false, "zero": false}, "axis": {"orient": "left", "offset": -38, "values": [0,0.5,1.0,1.5], "format": ".1f", "title": "1e\u22129", "titleAngle": 0, "titleX": 7, "titleY": 15.5, "titleAlign": "left", "titleBaseline": "alphabetic", "titleFontSize": 8}}}},
        {"data": {"name": "sticks"}, "transform": [{"filter": "datum.p === 'L' && datum.lab === 1"}], "mark": {"type": "text", "align": "left", "baseline": "alphabetic", "dx": -1, "fontSize": 9, "color": "#111"}, "encoding": {"x": {"field": "x", "type": "quantitative", "axis": null}, "y": {"field": "h", "type": "quantitative", "axis": null}, "text": {"field": "x", "type": "quantitative", "format": "d"}}}
      ],
      "resolve": {"axis": {"x": "independent", "y": "independent"}}
    },

    {"width": 103, "height": 173, "data": {"values": [{"name": "8T(4 \u00d7 5)"}]}, "mark": {"type": "text", "font": "Liberation Serif", "fontSize": 18, "color": "#000"}, "encoding": {"text": {"field": "name"}, "x": {"datum": 0.48, "type": "quantitative", "scale": {"domain": [0, 1]}, "axis": null}, "y": {"datum": 0.5, "type": "quantitative", "scale": {"domain": [0, 1]}, "axis": {"orient": "right", "offset": -4, "ticks": false, "labels": false, "title": null, "domainColor": "#3c3c3c", "domainWidth": 1}}}},
    {
      "width": 217, "height": 173,
      "layer": [
        {"data": {"name": "curves"}, "transform": [{"filter": "datum.p === 'M' && datum.s === 'g'"}], "mark": {"type": "line", "color": "#3aa03a", "strokeWidth": 0.8, "interpolate": "monotone"}, "encoding": {"x": {"field": "x", "type": "quantitative", "axis": null}, "y": {"field": "y", "type": "quantitative", "axis": null}}},
        {"data": {"name": "sticks"}, "transform": [{"filter": "datum.p === 'M'"}], "mark": {"type": "rule", "color": "#e8603c", "strokeWidth": 0.8, "strokeDash": [1.5, 2]}, "encoding": {"x": {"field": "x", "type": "quantitative", "axis": {"orient": "top", "offset": -20, "values": [0,200,400,600,800,1000,1200,1400], "labels": false, "title": "circulant IC", "titleFontSize": 7.3, "titleY": -6, "titleBaseline": "alphabetic"}}, "y": {"field": "h", "type": "quantitative", "axis": {"orient": "right", "offset": -7, "values": [0,1,2,3,4,5,6,7], "labels": false, "title": null}}, "y2": {"datum": 0}}},
        {"data": {"name": "curves"}, "transform": [{"filter": "datum.p === 'M' && datum.s === 'b'"}], "mark": {"type": "line", "color": "#6262cc", "strokeWidth": 0.9, "interpolate": "monotone"}, "encoding": {"x": {"field": "x", "type": "quantitative", "scale": {"domain": [0, 1500], "range": [38, 210], "nice": false, "zero": false}, "axis": {"orient": "bottom", "offset": -22, "values": [0,200,400,600,800,1000,1200,1400], "format": "d", "title": "Wavenumber [1/cm]", "titleFontSize": 5.9, "titleY": 14, "titleBaseline": "alphabetic"}}, "y": {"field": "y", "type": "quantitative", "scale": {"domain": [0, 7.64], "range": [151, 20], "nice": false, "zero": false}, "axis": {"orient": "left", "offset": -38, "values": [0,1,2,3,4,5,6,7], "format": "d", "title": "1e\u221210", "titleAngle": 0, "titleX": 7, "titleY": 15.5, "titleAlign": "left", "titleBaseline": "alphabetic", "titleFontSize": 8}}}},
        {"data": {"name": "sticks"}, "transform": [{"filter": "datum.p === 'M' && datum.lab === 1"}], "mark": {"type": "text", "align": "left", "baseline": "alphabetic", "dx": -1, "fontSize": 9, "color": "#111"}, "encoding": {"x": {"field": "x", "type": "quantitative", "axis": null}, "y": {"field": "h", "type": "quantitative", "axis": null}, "text": {"field": "x", "type": "quantitative", "format": "d"}}}
      ],
      "resolve": {"axis": {"x": "independent", "y": "independent"}}
    },
    {
      "width": 217, "height": 173,
      "layer": [
        {"data": {"name": "curves"}, "transform": [{"filter": "datum.p === 'N' && datum.s === 'g'"}], "mark": {"type": "line", "color": "#3aa03a", "strokeWidth": 0.8, "interpolate": "monotone"}, "encoding": {"x": {"field": "x", "type": "quantitative", "axis": null}, "y": {"field": "y", "type": "quantitative", "axis": null}}},
        {"data": {"name": "sticks"}, "transform": [{"filter": "datum.p === 'N'"}], "mark": {"type": "rule", "color": "#e8603c", "strokeWidth": 0.8, "strokeDash": [1.5, 2]}, "encoding": {"x": {"field": "x", "type": "quantitative", "axis": {"orient": "top", "offset": -20, "values": [0,200,400,600,800,1000,1200,1400], "labels": false, "title": "circulant IC", "titleFontSize": 7.3, "titleY": -6, "titleBaseline": "alphabetic"}}, "y": {"field": "h", "type": "quantitative", "axis": {"orient": "right", "offset": -7, "values": [0,0.2,0.4,0.6,0.8,1.0,1.2,1.4], "labels": false, "title": null}}, "y2": {"datum": 0}}},
        {"data": {"name": "curves"}, "transform": [{"filter": "datum.p === 'N' && datum.s === 'b'"}], "mark": {"type": "line", "color": "#6262cc", "strokeWidth": 0.9, "interpolate": "monotone"}, "encoding": {"x": {"field": "x", "type": "quantitative", "scale": {"domain": [0, 1500], "range": [38, 210], "nice": false, "zero": false}, "axis": {"orient": "bottom", "offset": -22, "values": [0,200,400,600,800,1000,1200,1400], "format": "d", "title": "Wavenumber [1/cm]", "titleFontSize": 5.9, "titleY": 14, "titleBaseline": "alphabetic"}}, "y": {"field": "y", "type": "quantitative", "scale": {"domain": [0, 1.55], "range": [151, 20], "nice": false, "zero": false}, "axis": {"orient": "left", "offset": -38, "values": [0,0.2,0.4,0.6,0.8,1.0,1.2,1.4], "format": ".1f", "title": "1e\u22129", "titleAngle": 0, "titleX": 7, "titleY": 15.5, "titleAlign": "left", "titleBaseline": "alphabetic", "titleFontSize": 8}}}},
        {"data": {"name": "sticks"}, "transform": [{"filter": "datum.p === 'N' && datum.lab === 1"}], "mark": {"type": "text", "align": "left", "baseline": "alphabetic", "dx": -1, "fontSize": 9, "color": "#111"}, "encoding": {"x": {"field": "x", "type": "quantitative", "axis": null}, "y": {"field": "h", "type": "quantitative", "axis": null}, "text": {"field": "x", "type": "quantitative", "format": "d"}}}
      ],
      "resolve": {"axis": {"x": "independent", "y": "independent"}}
    },
    {
      "width": 209, "height": 173,
      "layer": [
        {"data": {"name": "curves"}, "transform": [{"filter": "datum.p === 'O' && datum.s === 'g'"}], "mark": {"type": "line", "color": "#3aa03a", "strokeWidth": 0.8, "interpolate": "monotone"}, "encoding": {"x": {"field": "x", "type": "quantitative", "axis": null}, "y": {"field": "y", "type": "quantitative", "axis": null}}},
        {"data": {"name": "sticks"}, "transform": [{"filter": "datum.p === 'O'"}], "mark": {"type": "rule", "color": "#e8603c", "strokeWidth": 0.8, "strokeDash": [1.5, 2]}, "encoding": {"x": {"field": "x", "type": "quantitative", "axis": {"orient": "top", "offset": -20, "values": [0,200,400,600,800,1000,1200,1400], "labels": false, "title": "circulant IC", "titleFontSize": 7.3, "titleY": -6, "titleBaseline": "alphabetic"}}, "y": {"field": "h", "type": "quantitative", "axis": null}, "y2": {"datum": 0}}},
        {"data": {"name": "curves"}, "transform": [{"filter": "datum.p === 'O' && datum.s === 'b'"}], "mark": {"type": "line", "color": "#6262cc", "strokeWidth": 0.9, "interpolate": "monotone"}, "encoding": {"x": {"field": "x", "type": "quantitative", "scale": {"domain": [0, 1500], "range": [38, 210], "nice": false, "zero": false}, "axis": {"orient": "bottom", "offset": -22, "values": [0,200,400,600,800,1000,1200,1400], "format": "d", "title": "Wavenumber [1/cm]", "titleFontSize": 5.9, "titleY": 14, "titleBaseline": "alphabetic"}}, "y": {"field": "y", "type": "quantitative", "scale": {"domain": [0, 1.91], "range": [151, 20], "nice": false, "zero": false}, "axis": {"orient": "left", "offset": -38, "values": [0,0.5,1.0,1.5], "format": ".1f", "title": "1e\u22129", "titleAngle": 0, "titleX": 7, "titleY": 15.5, "titleAlign": "left", "titleBaseline": "alphabetic", "titleFontSize": 8}}}},
        {"data": {"name": "sticks"}, "transform": [{"filter": "datum.p === 'O' && datum.lab === 1"}], "mark": {"type": "text", "align": "left", "baseline": "alphabetic", "dx": -1, "fontSize": 9, "color": "#111"}, "encoding": {"x": {"field": "x", "type": "quantitative", "axis": null}, "y": {"field": "h", "type": "quantitative", "axis": null}, "text": {"field": "x", "type": "quantitative", "format": "d"}}}
      ],
      "resolve": {"axis": {"x": "independent", "y": "independent"}}
    }
  ]
}
